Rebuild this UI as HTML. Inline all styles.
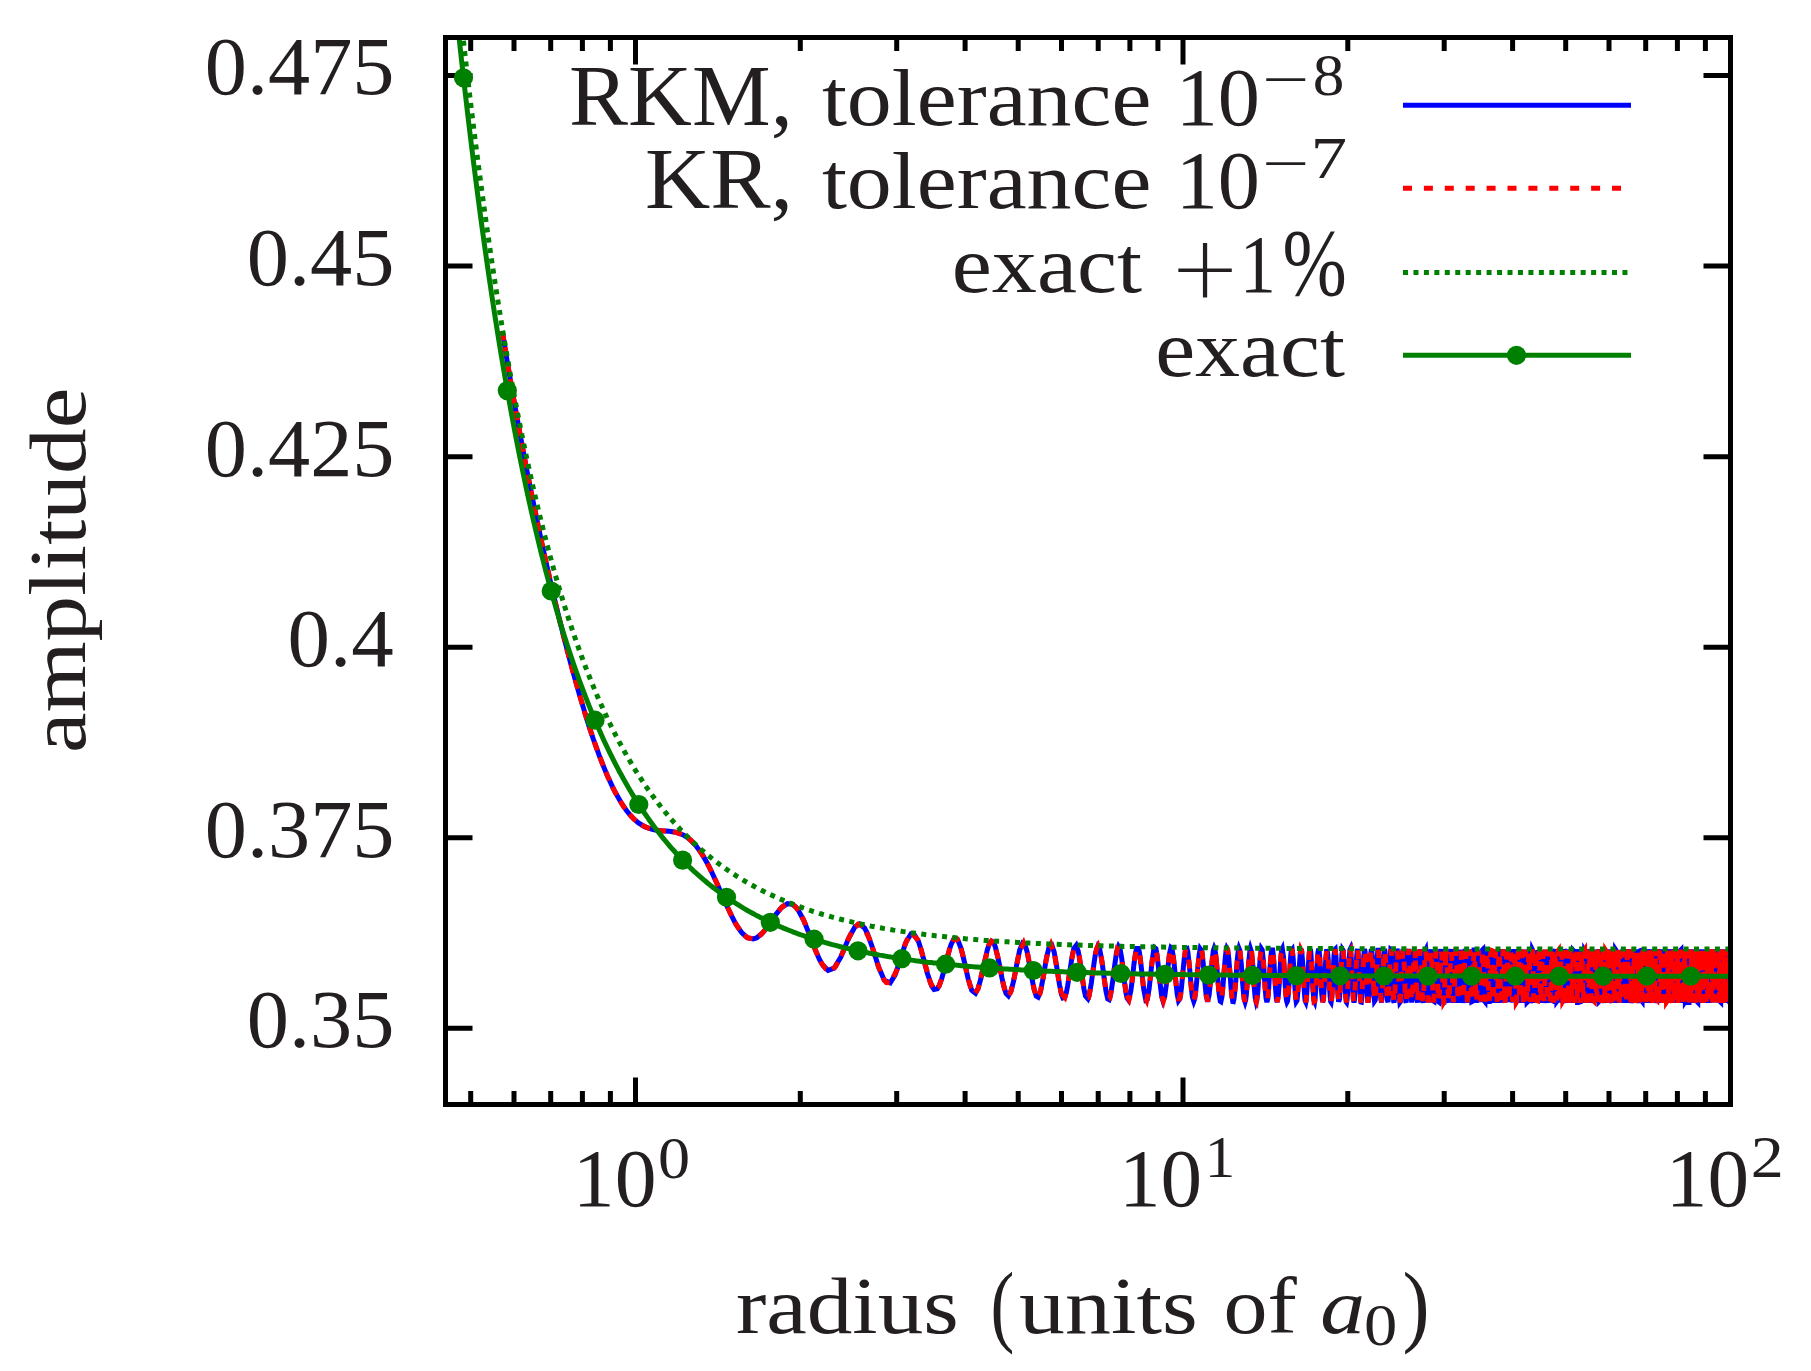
<!DOCTYPE html>
<html lang="en">
<head>
<meta charset="utf-8">
<title>amplitude vs radius</title>
<style>
html,body{margin:0;padding:0;background:#fff;}
body{width:1811px;height:1371px;overflow:hidden;}
svg{display:block;}
text{font-family:"Liberation Serif","DejaVu Serif",serif;fill:#231f20;}
</style>
</head>
<body>
<svg width="1811" height="1371" viewBox="0 0 1811 1371">
<rect x="0" y="0" width="1811" height="1371" fill="#ffffff"/>
<defs><clipPath id="plot"><rect x="445.5" y="37.5" width="1285.0" height="1067.0"/></clipPath></defs>
<path d="M445.5,1028.3 h27.0 M1730.5,1028.3 h-27.0 M445.5,837.7 h27.0 M1730.5,837.7 h-27.0 M445.5,647.2 h27.0 M1730.5,647.2 h-27.0 M445.5,456.7 h27.0 M1730.5,456.7 h-27.0 M445.5,266.1 h27.0 M1730.5,266.1 h-27.0 M445.5,75.6 h27.0 M1730.5,75.6 h-27.0 M470.7,1104.5 v-13.5 M470.7,37.5 v13.5 M514.0,1104.5 v-13.5 M514.0,37.5 v13.5 M550.7,1104.5 v-13.5 M550.7,37.5 v13.5 M582.4,1104.5 v-13.5 M582.4,37.5 v13.5 M610.4,1104.5 v-13.5 M610.4,37.5 v13.5 M635.5,1104.5 v-27.0 M635.5,37.5 v27.0 M800.3,1104.5 v-13.5 M800.3,37.5 v13.5 M896.7,1104.5 v-13.5 M896.7,37.5 v13.5 M965.1,1104.5 v-13.5 M965.1,37.5 v13.5 M1018.2,1104.5 v-13.5 M1018.2,37.5 v13.5 M1061.5,1104.5 v-13.5 M1061.5,37.5 v13.5 M1098.2,1104.5 v-13.5 M1098.2,37.5 v13.5 M1129.9,1104.5 v-13.5 M1129.9,37.5 v13.5 M1157.9,1104.5 v-13.5 M1157.9,37.5 v13.5 M1183.0,1104.5 v-27.0 M1183.0,37.5 v27.0 M1347.8,1104.5 v-13.5 M1347.8,37.5 v13.5 M1444.2,1104.5 v-13.5 M1444.2,37.5 v13.5 M1512.6,1104.5 v-13.5 M1512.6,37.5 v13.5 M1565.7,1104.5 v-13.5 M1565.7,37.5 v13.5 M1609.0,1104.5 v-13.5 M1609.0,37.5 v13.5 M1645.7,1104.5 v-13.5 M1645.7,37.5 v13.5 M1677.4,1104.5 v-13.5 M1677.4,37.5 v13.5 M1705.4,1104.5 v-13.5 M1705.4,37.5 v13.5 M1730.5,1104.5 v-27.0 M1730.5,37.5 v27.0" stroke="#000" stroke-width="5" fill="none"/>
<g clip-path="url(#plot)" fill="none" stroke-width="5" stroke-linejoin="miter" stroke-miterlimit="3.8">
<path d="M502.3,331.2 L507.0,360.3 L513.6,398.7 L516.8,416.7 L523.4,452.3 L527.3,472.6 L531.7,494.7 L537.8,524.1 L542.1,544.4 L547.0,566.6 L549.7,578.6 L555.5,603.3 L560.4,623.3 L564.4,639.2 L570.3,661.9 L574.2,676.1 L578.7,692.1 L581.9,702.9 L586.2,717.0 L589.6,727.9 L593.3,739.0 L599.1,755.1 L602.9,764.9 L607.5,776.1 L614.2,790.4 L620.9,802.3 L626.5,810.6 L631.4,816.5 L635.2,820.2 L638.5,822.9 L645.1,826.9 L649.9,828.7 L653.0,829.5 L658.2,830.4 L664.1,830.9 L669.3,831.3 L675.7,832.3 L678.5,833.1 L683.3,835.0 L687.9,837.9 L690.7,840.2 L696.0,845.8 L702.2,854.4 L707.3,863.2 L711.0,870.5 L717.1,883.7 L721.9,894.5 L726.6,905.3 L732.4,917.5 L735.6,923.6 L741.7,932.6 L747.2,937.6 L753.1,939.0 L756.5,937.9 L762.5,933.0 L765.9,928.8 L768.8,924.7 L775.0,915.6 L781.2,907.8 L787.5,903.7 L792.1,904.2 L795.9,907.1 L798.5,910.6 L803.8,920.6 L809.4,934.4 L815.5,950.4 L819.3,959.1 L822.9,965.4 L828.1,970.4 L834.1,968.2 L840.8,957.0 L844.0,949.4 L848.6,938.3 L855.0,926.7 L859.4,924.0 L864.5,927.9 L867.2,933.0 L872.5,947.7 L878.7,967.3 L884.4,980.4 L890.2,982.8 L895.0,975.1 L898.1,966.4 L903.2,950.2 L906.1,941.8 L911.2,933.6 L913.6,933.5 L918.5,941.5 L921.1,949.7 L924.4,962.0 L927.4,973.5 L931.6,985.8 L934.1,989.4 L937.3,988.8 L939.2,985.6 L941.9,978.0 L945.1,966.3 L947.2,957.6 L950.9,944.8 L953.8,939.1 L957.7,939.8 L961.3,949.1 L964.2,961.2 L968.3,979.4 L971.7,990.3 L975.5,993.2 L978.1,988.6 L981.1,977.7 L983.2,968.0 L987.3,949.9 L989.4,943.6 L991.6,941.1 L993.3,942.1 L995.4,947.1 L998.8,961.4 L1001.9,977.7 L1003.7,985.8 L1006.0,993.4 L1008.4,995.8 L1011.3,990.4 L1013.8,980.1 L1016.5,965.6 L1019.7,950.1 L1022.6,943.2 L1024.8,944.5 L1027.1,951.6 L1029.1,962.1 L1030.7,971.1 L1032.4,981.1 L1034.3,990.2 L1036.2,996.1 L1038.1,997.2 L1040.5,991.6 L1043.7,974.9 L1046.4,958.2 L1049.2,946.6 L1051.8,945.0 L1054.2,952.1 L1057.1,969.1 L1059.5,984.9 L1061.6,994.8 L1062.9,997.9 L1064.9,997.3 L1066.4,992.4 L1067.7,985.4 L1069.7,972.1 L1072.2,955.9 L1073.8,948.6 L1076.2,945.5 L1078.2,951.1 L1079.5,958.1 L1082.2,977.1 L1083.9,988.7 L1085.5,996.1 L1087.9,998.8 L1089.1,995.6 L1091.3,983.1 L1092.6,973.5 L1094.3,961.3 L1095.6,952.9 L1097.9,946.0 L1099.5,948.1 L1102.0,961.6 L1104.0,976.8 L1106.0,991.4 L1107.7,998.8 L1109.1,999.6 L1110.6,995.0 L1113.0,979.2 L1114.2,969.1 L1116.5,952.3 L1118.5,946.5 L1120.0,948.8 L1121.8,958.9 L1123.2,970.5 L1124.6,982.8 L1126.2,994.1 L1127.1,998.2 L1128.6,1000.2 L1130.8,991.1 L1132.1,981.3 L1133.9,964.6 L1135.4,953.8 L1136.5,948.6 L1138.5,948.6 L1139.4,952.3 L1140.6,960.9 L1142.7,980.5 L1143.9,990.3 L1145.8,1000.0 L1147.4,999.2 L1149.2,988.2 L1150.8,973.5 L1152.0,961.8 L1153.7,950.0 L1154.5,947.6 L1155.9,948.7 L1157.1,955.2 L1158.4,966.8 L1159.3,976.0 L1160.4,986.1 L1161.8,996.9 L1163.0,1000.9 L1164.7,996.9 L1166.2,985.5 L1167.9,967.5 L1169.5,953.6 L1170.9,947.7 L1172.0,948.7 L1173.6,958.6 L1174.6,968.3 L1175.4,976.9 L1177.2,994.2 L1178.5,1000.7 L1180.0,998.6 L1181.3,989.3 L1182.7,974.8 L1183.4,966.9 L1184.3,958.1 L1185.7,949.0 L1187.0,948.5 L1187.9,952.4 L1189.6,968.1 L1190.4,977.6 L1191.6,990.6 L1192.4,997.1 L1193.8,1001.4 L1194.8,998.7 L1195.5,993.1 L1196.2,986.4 L1197.1,976.9 L1197.9,967.0 L1199.1,955.0 L1200.2,948.8 L1201.8,951.0 L1203.4,965.3 L1204.9,982.6 L1206.2,995.8 L1207.6,1001.6 L1209.2,994.6 L1209.8,988.5 L1210.5,980.0 L1211.5,967.9 L1212.2,959.9 L1213.4,950.4 L1214.2,948.1 L1215.1,950.2 L1215.9,956.5 L1216.6,963.9 L1217.9,980.4 L1219.1,994.1 L1220.3,1001.2 L1220.9,1001.6 L1221.9,997.2 L1223.1,984.7 L1223.8,975.3 L1224.8,963.3 L1225.4,956.8 L1226.0,951.5 L1226.8,948.4 L1227.7,950.0 L1228.7,957.6 L1230.1,974.8 L1230.9,986.1 L1231.5,992.7 L1232.8,1001.5 L1233.4,1001.6 L1234.0,998.9 L1235.5,984.5 L1236.7,967.8 L1237.5,957.4 L1238.2,951.6 L1239.0,948.3 L1239.9,950.5 L1241.2,962.9 L1242.1,975.3 L1242.7,983.8 L1244.0,998.4 L1245.1,1001.9 L1245.7,999.8 L1246.3,994.9 L1247.2,983.7 L1247.8,975.0 L1248.9,960.4 L1249.9,950.7 L1250.4,948.6 L1251.6,952.3 L1252.8,965.5 L1254.0,984.2 L1255.1,996.9 L1256.2,1002.0 L1256.8,1000.4 L1257.3,996.6 L1257.9,990.5 L1259.2,971.8 L1260.2,957.7 L1261.4,948.7 L1262.2,949.9 L1263.3,959.9 L1263.8,967.4 L1264.4,977.1 L1265.1,987.7 L1266.0,998.2 L1266.9,1002.1 L1267.8,998.5 L1268.6,989.6 L1269.5,975.4 L1270.8,957.4 L1271.6,950.1 L1272.7,950.1 L1273.2,954.0 L1274.0,963.5 L1274.8,977.7 L1275.8,991.9 L1276.4,998.9 L1277.2,1002.2 L1278.3,995.8 L1279.3,982.7 L1280.2,967.9 L1280.7,960.3 L1281.2,954.3 L1281.8,949.7 L1282.3,948.7 L1283.5,957.0 L1283.9,963.3 L1284.6,975.0 L1285.1,983.3 L1286.0,996.2 L1286.5,1000.4 L1287.0,1002.2 L1287.5,1001.3 L1288.1,996.3 L1289.0,984.2 L1290.0,966.8 L1290.6,957.4 L1291.2,950.9 L1292.2,949.6 L1293.2,958.6 L1293.7,966.6 L1294.7,984.0 L1295.7,998.1 L1296.2,1001.8 L1297.1,1000.4 L1297.6,994.9 L1298.2,986.1 L1299.0,972.6 L1299.8,959.6 L1300.5,951.1 L1301.3,948.9 L1301.8,952.0 L1302.8,964.5 L1303.4,975.2 L1304.4,992.9 L1305.1,1000.8 L1305.8,1002.2 L1306.3,999.6 L1307.0,990.6 L1307.6,979.1 L1308.5,964.1 L1309.2,953.6 L1309.6,950.0 L1310.6,950.6 L1311.0,954.6 L1311.9,969.6 L1312.8,987.0 L1313.8,1000.2 L1314.6,1001.9 L1315.1,998.4 L1315.8,989.0 L1316.5,976.5 L1317.3,961.6 L1317.9,952.9 L1318.7,948.8 L1319.2,951.2 L1319.8,958.3 L1320.5,971.3 L1321.2,984.1 L1321.6,992.2 L1322.6,1002.1 L1323.4,999.8 L1324.3,987.1 L1324.9,975.4 L1325.9,957.6 L1326.7,949.3 L1327.7,953.1 L1328.2,960.0 L1328.8,972.6 L1329.4,984.9 L1330.2,997.1 L1330.7,1001.7 L1331.1,1002.3 L1331.8,997.7 L1332.5,985.6 L1333.1,973.3 L1334.0,955.8 L1334.6,949.8 L1335.2,949.2 L1336.0,957.5 L1336.6,969.2 L1337.2,980.2 L1337.7,990.6 L1338.6,1001.7 L1339.5,999.3 L1340.2,988.3 L1340.7,977.6 L1341.5,961.8 L1341.9,954.2 L1342.5,949.5 L1343.1,950.4 L1343.7,957.1 L1344.3,967.4 L1345.1,986.8 L1345.6,994.8 L1346.3,1002.0 L1346.6,1002.4 L1347.0,1000.1 L1347.5,994.1 L1348.4,975.8 L1349.1,960.1 L1349.9,949.8 L1350.3,949.0 L1351.0,954.4 L1351.6,964.6 L1352.1,977.1 L1352.9,992.4 L1353.4,999.6 L1354.0,1002.5 L1354.5,999.7 L1355.0,991.6 L1355.6,978.3 L1356.0,968.8 L1356.5,958.9 L1357.1,951.2 L1357.6,949.1 L1358.4,956.2 L1359.1,969.5 L1359.7,984.0 L1360.5,998.4 L1360.9,1002.1 L1361.3,1002.2 L1361.8,997.5 L1362.2,990.7 L1362.8,977.0 L1363.4,962.7 L1363.8,955.6 L1364.5,949.1 L1365.1,951.6 L1365.6,959.7 L1366.4,977.7 L1367.2,994.2 L1367.6,1000.2 L1368.0,1002.5 L1368.8,996.9 L1369.2,989.8 L1369.9,973.3 L1370.3,962.4 L1370.8,953.6 L1371.4,949.0 L1372.2,954.7 L1372.5,960.3 L1372.9,969.0 L1373.5,985.4 L1374.0,995.7 L1374.5,1001.3 L1375.3,1000.2 L1375.7,993.7 L1376.4,978.8 L1377.1,960.1 L1377.8,950.3 L1378.5,950.3 L1379.1,959.9 L1379.8,976.4 L1380.2,987.2 L1380.8,998.6 L1381.5,1002.5 L1382.2,994.2 L1383.0,977.0 L1383.7,959.3 L1384.0,953.4 L1384.5,949.2 L1385.0,951.0 L1385.7,963.2 L1386.2,975.6 L1386.6,986.3 L1386.9,993.1 L1387.3,1000.0 L1388.0,1002.1 L1388.3,999.3 L1388.7,993.2 L1389.1,983.1 L1389.6,968.9 L1390.1,958.2 L1390.8,949.4 L1391.2,949.7 L1391.7,956.6 L1392.3,971.8 L1393.0,990.3 L1393.7,1001.4 L1394.1,1002.6 L1394.7,996.2 L1395.3,982.8 L1395.8,970.0 L1396.1,962.6 L1396.4,955.2 L1397.0,949.1 L1397.3,950.0 L1397.8,955.4 L1398.1,963.8 L1398.8,980.3 L1399.2,991.5 L1399.5,997.7 L1399.9,1002.3 L1400.4,1001.6 L1401.0,992.4 L1401.4,981.9 L1402.0,965.9 L1402.5,954.6 L1403.1,949.1 L1403.7,954.9 L1404.2,964.9 L1404.6,978.3 L1405.1,990.9 L1405.8,1001.7 L1406.1,1002.6 L1406.5,998.6 L1407.0,988.1 L1407.5,975.4 L1408.0,961.1 L1408.5,952.0 L1408.9,949.1 L1409.5,954.0 L1409.9,962.6 L1410.4,977.2 L1411.0,992.7 L1411.3,998.8 L1411.7,1002.5 L1412.4,997.6 L1413.0,981.3 L1413.7,962.0 L1414.0,955.8 L1414.6,949.2 L1415.2,954.9 L1415.9,970.7 L1416.4,987.0 L1417.0,998.9 L1417.5,1002.6 L1418.0,997.4 L1418.6,983.1 L1419.0,969.3 L1419.4,959.9 L1419.7,953.8 L1420.3,949.3 L1420.9,956.2 L1421.2,964.0 L1421.8,981.5 L1422.1,991.9 L1422.6,1001.1 L1423.0,1002.6 L1423.4,999.5 L1423.7,993.3 L1424.0,986.0 L1424.2,977.7 L1424.5,969.2 L1424.8,961.2 L1425.4,950.5 L1425.8,949.7 L1426.1,953.1 L1426.6,963.4 L1427.0,977.3 L1427.5,990.4 L1427.8,997.8 L1428.2,1002.5 L1428.8,998.5 L1429.2,989.5 L1429.7,976.2 L1430.3,958.5 L1430.6,952.0 L1431.1,949.5 L1431.5,954.9 L1432.1,969.3 L1432.5,981.3 L1432.9,994.1 L1433.3,1000.9 L1433.9,1001.3 L1434.5,989.4 L1434.9,974.5 L1435.6,956.8 L1436.1,949.4 L1436.6,952.8 L1437.2,966.9 L1437.5,977.8 L1438.1,995.5 L1438.5,1001.7 L1438.9,1002.0 L1439.2,997.9 L1439.8,983.5 L1440.1,971.8 L1440.6,957.4 L1440.9,951.5 L1441.3,949.2 L1441.7,952.3 L1442.0,959.0 L1442.2,966.0 L1442.8,982.9 L1443.3,998.5 L1443.7,1002.3 L1443.9,1002.3 L1444.3,997.5 L1444.6,991.3 L1445.0,976.5 L1445.4,964.6 L1445.8,953.6 L1446.4,949.4 L1446.9,957.4 L1447.5,974.7 L1448.0,992.7 L1448.5,1001.3 L1448.9,1002.3 L1449.1,999.5 L1449.4,994.0 L1449.8,981.4 L1450.3,963.6 L1450.7,953.9 L1450.9,950.5 L1451.2,949.2 L1451.7,955.6 L1452.0,963.0 L1452.3,972.6 L1452.6,983.7 L1453.0,996.4 L1453.6,1002.8 L1453.8,1001.0 L1454.3,991.9 L1454.7,978.7 L1455.1,965.7 L1455.5,954.2 L1456.0,949.2 L1456.3,951.6 L1456.7,960.3 L1456.9,968.2 L1457.3,982.1 L1457.8,996.8 L1458.4,1002.7 L1458.7,998.3 L1459.1,990.2 L1459.5,976.0 L1459.8,964.2 L1460.1,956.8 L1460.5,950.0 L1461.0,951.4 L1461.5,964.1 L1462.0,983.5 L1462.4,994.1 L1462.7,1000.4 L1462.9,1002.7 L1463.3,1000.5 L1463.7,988.7 L1464.0,978.6 L1464.5,961.2 L1465.0,951.0 L1465.3,949.2 L1465.7,953.7 L1466.2,967.7 L1466.7,986.6 L1466.9,994.6 L1467.4,1002.6 L1467.9,999.2 L1468.2,992.1 L1468.5,981.8 L1469.0,962.8 L1469.3,953.9 L1469.6,949.7 L1470.1,951.7 L1470.3,957.0 L1470.7,968.7 L1471.0,980.7 L1471.4,993.6 L1471.8,1001.7 L1472.2,1001.5 L1472.6,994.7 L1473.0,977.9 L1473.5,960.8 L1474.0,950.0 L1474.4,950.0 L1474.8,958.7 L1475.1,970.3 L1475.4,981.4 L1475.8,995.1 L1476.4,1002.8 L1476.8,997.8 L1477.1,989.5 L1477.4,979.6 L1477.8,962.9 L1478.2,951.8 L1478.7,950.0 L1479.0,953.8 L1479.4,968.4 L1479.8,981.3 L1480.0,991.4 L1480.4,999.4 L1480.9,1002.0 L1481.4,990.9 L1481.6,983.0 L1481.9,971.5 L1482.3,956.9 L1482.5,952.2 L1482.7,949.6 L1482.9,949.4 L1483.4,957.7 L1483.7,967.8 L1484.0,979.3 L1484.4,994.9 L1484.7,1001.2 L1485.1,1001.7 L1485.4,995.7 L1485.7,986.5 L1486.0,974.2 L1486.3,964.8 L1486.5,957.7 L1486.9,949.4 L1487.4,953.3 L1487.7,962.9 L1488.1,978.6 L1488.6,995.0 L1488.9,1001.5 L1489.3,1001.5 L1489.7,991.6 L1489.9,983.8 L1490.2,974.5 L1490.6,958.9 L1491.0,950.2 L1491.2,949.4 L1491.6,956.9 L1492.1,972.4 L1492.4,984.1 L1492.7,994.3 L1492.9,999.8 L1493.2,1002.8 L1493.4,1001.1 L1493.8,992.7 L1494.1,978.5 L1494.5,964.0 L1494.7,957.1 L1495.1,949.8 L1495.5,951.6 L1495.7,956.8 L1496.1,969.8 L1496.5,987.3 L1496.7,995.5 L1497.2,1002.8 L1497.6,996.5 L1498.0,982.6 L1498.5,964.5 L1498.7,955.8 L1499.1,949.4 L1499.6,953.9 L1499.8,959.4 L1500.2,976.1 L1500.4,986.4 L1500.8,999.4 L1501.2,1002.7 L1501.6,995.7 L1501.9,985.3 L1502.2,972.2 L1502.7,955.7 L1502.9,951.3 L1503.1,949.3 L1503.5,955.6 L1504.0,971.9 L1504.2,981.3 L1504.7,997.7 L1504.9,1002.2 L1505.3,999.6 L1505.8,985.7 L1506.0,977.9 L1506.1,970.2 L1506.4,959.6 L1506.8,949.7 L1507.2,952.0 L1507.5,959.9 L1507.9,977.1 L1508.2,988.2 L1508.5,997.4 L1508.7,1001.8 L1509.1,1000.0 L1509.5,987.5 L1509.8,974.4 L1510.1,963.9 L1510.5,951.0 L1510.8,949.4 L1511.0,952.4 L1511.3,960.9 L1511.7,976.6 L1512.1,992.6 L1512.3,998.7 L1512.7,1002.4 L1513.1,995.2 L1513.3,988.5 L1513.7,970.8 L1514.1,954.5 L1514.5,949.3 L1514.7,950.7 L1515.0,958.0 L1515.3,971.3 L1515.7,989.5 L1516.0,999.3 L1516.2,1002.3 L1516.6,999.2 L1517.1,984.2 L1517.4,970.6 L1517.6,962.9 L1517.9,951.2 L1518.3,950.1 L1518.7,961.3 L1518.9,968.3 L1519.2,981.2 L1519.4,991.5 L1519.6,997.9 L1520.0,1002.8 L1520.2,1000.0 L1520.4,995.3 L1520.6,987.8 L1521.0,970.5 L1521.3,957.2 L1521.6,951.5 L1521.9,949.8 L1522.1,953.2 L1522.4,965.0 L1522.8,980.5 L1522.9,987.8 L1523.2,998.3 L1523.6,1002.8 L1524.0,996.8 L1524.3,983.1 L1524.7,964.8 L1525.1,952.6 L1525.5,949.9 L1525.7,955.4 L1525.9,961.4 L1526.1,970.5 L1526.4,981.7 L1526.5,989.3 L1526.7,996.3 L1527.0,1002.4 L1527.2,1002.2 L1527.5,997.5 L1527.8,983.8 L1528.2,965.8 L1528.6,952.4 L1528.9,949.3 L1529.2,953.7 L1529.6,968.0 L1529.8,977.4 L1530.0,987.2 L1530.3,998.9 L1530.5,1002.6 L1530.7,1002.1 L1531.0,996.5 L1531.2,990.6 L1531.4,978.3 L1531.6,970.1 L1531.8,960.4 L1532.0,953.4 L1532.3,949.5 L1532.5,949.9 L1532.7,956.0 L1533.1,969.7 L1533.3,981.5 L1533.7,997.5 L1534.1,1002.8 L1534.3,999.8 L1534.5,995.0 L1534.8,979.8 L1535.0,969.2 L1535.3,958.8 L1535.6,950.6 L1536.0,951.7 L1536.2,958.5 L1536.5,970.5 L1536.8,985.8 L1537.1,998.3 L1537.3,1002.3 L1537.6,1001.1 L1537.9,992.6 L1538.2,978.0 L1538.4,968.9 L1538.6,960.6 L1539.0,949.9 L1539.4,951.9 L1539.7,964.4 L1540.1,983.3 L1540.5,998.7 L1540.7,1002.7 L1541.1,998.9 L1541.4,987.2 L1541.7,972.9 L1542.0,958.4 L1542.2,951.6 L1542.6,950.2 L1542.8,956.4 L1543.0,963.9 L1543.2,971.2 L1543.5,986.6 L1543.7,995.3 L1544.1,1002.8 L1544.3,1001.3 L1544.5,995.1 L1544.9,977.2 L1545.1,963.5 L1545.5,951.1 L1545.8,950.3 L1546.0,954.3 L1546.2,961.7 L1546.5,973.4 L1546.8,991.2 L1547.1,999.2 L1547.3,1002.8 L1547.6,999.7 L1547.8,992.1 L1548.1,975.7 L1548.3,967.5 L1548.5,958.5 L1548.8,949.7 L1549.1,951.3 L1549.4,959.6 L1549.6,970.7 L1549.8,979.9 L1550.1,992.2 L1550.4,1002.4 L1550.7,1000.8 L1551.0,991.6 L1551.4,972.6 L1551.7,956.3 L1552.1,949.3 L1552.5,956.2 L1552.8,969.8 L1553.0,981.2 L1553.3,994.8 L1553.5,1001.3 L1553.9,1001.5 L1554.0,997.0 L1554.3,986.3 L1554.6,968.5 L1554.9,957.1 L1555.1,949.9 L1555.3,949.4 L1555.5,952.9 L1555.9,967.8 L1556.2,983.5 L1556.4,994.1 L1556.7,1001.6 L1557.0,1001.2 L1557.3,990.4 L1557.6,973.2 L1557.8,962.5 L1558.0,954.7 L1558.3,949.3 L1558.6,952.2 L1558.9,961.9 L1559.0,971.5 L1559.3,983.1 L1559.6,997.1 L1559.8,1002.3 L1560.1,1000.4 L1560.3,995.8 L1560.6,978.6 L1560.8,968.5 L1561.0,956.9 L1561.4,949.3 L1561.6,950.8 L1561.8,956.2 L1562.1,973.6 L1562.5,991.6 L1562.7,1000.6 L1562.9,1002.7 L1563.2,999.9 L1563.4,993.2 L1563.5,984.2 L1563.9,965.3 L1564.2,953.7 L1564.4,949.4 L1564.6,950.0 L1564.8,955.3 L1565.1,970.7 L1565.3,982.1 L1565.5,992.6 L1565.8,1001.4 L1566.0,1002.8 L1566.2,997.9 L1566.5,984.0 L1566.7,972.9 L1567.0,960.4 L1567.2,951.3 L1567.5,949.3 L1567.6,952.0 L1567.8,957.2 L1568.1,969.9 L1568.4,988.7 L1568.5,995.1 L1568.9,1002.8 L1569.2,997.4 L1569.5,986.0 L1569.8,966.6 L1570.1,953.9 L1570.4,949.3 L1570.6,951.9 L1570.8,960.4 L1571.1,975.5 L1571.3,985.9 L1571.6,998.6 L1571.8,1002.8 L1572.1,998.9 L1572.4,983.8 L1572.6,973.3 L1572.8,961.5 L1573.0,953.7 L1573.2,950.3 L1573.4,950.5 L1573.7,959.0 L1574.0,977.7 L1574.3,991.9 L1574.5,1000.0 L1574.8,1002.1 L1575.0,999.1 L1575.2,991.3 L1575.5,975.1 L1575.6,965.7 L1575.8,956.0 L1576.1,949.3 L1576.4,951.5 L1576.5,957.5 L1576.9,974.3 L1577.0,982.9 L1577.3,997.8 L1577.5,1002.4 L1577.7,1002.4 L1577.9,996.4 L1578.1,985.2 L1578.5,965.9 L1578.8,953.2 L1579.0,949.3 L1579.2,952.6 L1579.4,960.2 L1579.8,979.0 L1580.0,990.7 L1580.3,1001.7 L1580.6,1001.6 L1580.9,990.1 L1581.1,978.7 L1581.3,966.0 L1581.5,956.1 L1581.8,949.3 L1582.1,955.1 L1582.4,969.9 L1582.6,983.1 L1582.9,997.7 L1583.2,1002.9 L1583.4,999.2 L1583.6,992.6 L1583.8,983.1 L1584.1,966.9 L1584.2,958.3 L1584.5,950.5 L1584.8,951.0 L1585.0,960.5 L1585.3,974.8 L1585.4,985.5 L1585.6,993.4 L1585.7,998.7 L1585.9,1002.0 L1586.0,1002.6 L1586.3,996.8 L1586.5,986.5 L1586.6,976.5 L1586.8,965.4 L1587.0,954.9 L1587.3,949.3 L1587.6,953.8 L1587.7,959.3 L1587.9,971.6 L1588.1,981.5 L1588.4,996.9 L1588.7,1002.9 L1588.9,998.6 L1589.2,985.6 L1589.5,969.6 L1589.8,955.0 L1589.9,950.1 L1590.1,949.6 L1590.4,957.0 L1590.7,974.5 L1590.9,984.8 L1591.1,996.8 L1591.3,1002.6 L1591.5,1001.5 L1591.8,991.4 L1592.0,983.0 L1592.1,970.8 L1592.4,959.1 L1592.7,949.6 L1592.9,951.9 L1593.2,963.1 L1593.5,982.6 L1593.7,992.1 L1593.9,1001.1 L1594.1,1002.9 L1594.2,1001.3 L1594.5,991.6 L1594.7,974.5 L1595.0,960.1 L1595.2,951.2 L1595.5,950.3 L1595.8,961.8 L1596.1,980.2 L1596.4,995.7 L1596.6,1002.0 L1596.9,1000.9 L1597.0,995.0 L1597.3,978.1 L1597.5,967.1 L1597.8,952.4 L1598.0,949.4 L1598.2,950.9 L1598.3,957.2 L1598.5,968.9 L1598.7,979.0 L1598.9,989.4 L1599.2,1001.3 L1599.5,1001.0 L1599.6,995.9 L1599.8,985.0 L1600.0,972.3 L1600.3,956.6 L1600.5,949.7 L1600.7,950.6 L1601.0,960.8 L1601.2,975.0 L1601.4,985.1 L1601.7,998.7 L1601.9,1002.8 L1602.1,997.5 L1602.4,984.7 L1602.5,975.3 L1602.8,959.5 L1603.0,950.9 L1603.2,949.8 L1603.4,955.1 L1603.7,968.0 L1603.8,976.3 L1604.0,989.7 L1604.3,1001.6 L1604.5,1002.8 L1604.6,1000.5 L1604.8,992.7 L1605.0,979.8 L1605.2,967.6 L1605.4,956.2 L1605.6,949.6 L1605.9,952.8 L1606.0,957.9 L1606.2,968.7 L1606.5,983.9 L1606.6,991.0 L1606.9,1002.1 L1607.1,1001.3 L1607.3,993.6 L1607.5,981.9 L1607.6,972.4 L1607.8,964.3 L1608.0,952.8 L1608.3,949.8 L1608.6,958.5 L1608.7,965.2 L1608.8,973.0 L1609.0,986.8 L1609.2,998.1 L1609.5,1002.9 L1609.7,997.1 L1610.0,981.3 L1610.3,962.0 L1610.5,953.7 L1610.7,949.4 L1611.0,955.1 L1611.2,968.5 L1611.3,976.8 L1611.6,994.1 L1611.8,1002.0 L1612.0,1002.7 L1612.2,998.6 L1612.4,987.4 L1612.6,972.0 L1612.8,960.3 L1613.0,950.6 L1613.3,950.0 L1613.5,960.8 L1613.8,978.2 L1613.9,987.4 L1614.1,994.7 L1614.3,1002.7 L1614.6,1000.1 L1614.8,985.6 L1615.0,972.7 L1615.2,963.4 L1615.3,956.9 L1615.5,949.5 L1615.7,949.8 L1615.9,957.0 L1616.1,969.6 L1616.4,986.2 L1616.6,1000.2 L1616.8,1002.8 L1617.0,1000.1 L1617.2,988.3 L1617.4,978.5 L1617.5,969.8 L1617.6,961.2 L1617.9,950.2 L1618.2,951.3 L1618.3,956.8 L1618.4,963.0 L1618.6,978.1 L1618.8,989.2 L1619.0,997.2 L1619.1,1001.8 L1619.3,1002.2 L1619.5,997.1 L1619.7,980.6 L1619.9,966.2 L1620.2,952.4 L1620.5,950.0 L1620.7,960.2 L1620.9,972.9 L1621.2,987.5 L1621.4,998.3 L1621.5,1001.7 L1621.7,1000.4 L1621.9,994.9 L1622.1,982.2 L1622.3,966.3 L1622.6,953.2 L1622.8,949.3 L1623.0,953.6 L1623.2,967.6 L1623.4,983.1 L1623.7,996.5 L1623.9,1002.9 L1624.0,1001.7 L1624.2,994.1 L1624.3,987.4 L1624.5,978.2 L1624.6,970.3 L1624.8,955.0 L1625.0,950.0 L1625.2,950.5 L1625.4,960.6 L1625.7,975.9 L1625.9,993.6 L1626.1,1001.3 L1626.4,1001.9 L1626.6,991.2 L1626.7,983.0 L1626.9,969.6 L1627.0,961.6 L1627.2,952.0 L1627.4,949.3 L1627.7,954.8 L1627.8,965.3 L1628.0,974.7 L1628.2,992.1 L1628.4,1000.3 L1628.5,1002.6 L1628.7,1001.9 L1628.8,996.0 L1628.9,989.8 L1629.1,981.0 L1629.2,969.7 L1629.4,959.2 L1629.6,951.4 L1629.7,949.3 L1629.9,952.1 L1630.1,960.7 L1630.2,971.8 L1630.4,988.4 L1630.7,1000.3 L1630.8,1002.6 L1630.9,1002.3 L1631.0,998.9 L1631.2,990.4 L1631.4,979.1 L1631.6,962.7 L1631.8,951.7 L1632.1,950.3 L1632.3,959.0 L1632.5,972.6 L1632.8,991.7 L1633.0,1001.2 L1633.1,1002.7 L1633.3,999.0 L1633.4,993.9 L1633.7,976.0 L1633.9,960.1 L1634.1,952.2 L1634.3,950.0 L1634.5,958.7 L1634.7,970.7 L1635.0,989.6 L1635.2,1001.4 L1635.4,1002.5 L1635.6,997.4 L1635.7,990.4 L1635.8,982.2 L1636.0,970.1 L1636.1,960.7 L1636.2,954.7 L1636.5,949.3 L1636.7,955.9 L1636.9,969.5 L1637.2,988.1 L1637.4,1000.7 L1637.6,1002.5 L1637.8,996.4 L1638.0,986.6 L1638.2,973.0 L1638.3,962.1 L1638.4,954.9 L1638.6,949.6 L1638.8,952.0 L1639.0,961.9 L1639.2,978.0 L1639.4,989.3 L1639.5,995.3 L1639.6,1001.0 L1639.8,1002.9 L1640.0,998.4 L1640.1,989.2 L1640.3,973.9 L1640.5,963.9 L1640.6,953.9 L1640.7,950.6 L1641.0,950.5 L1641.2,961.2 L1641.4,978.8 L1641.7,995.2 L1641.8,1000.8 L1642.1,1001.2 L1642.2,992.8 L1642.4,984.0 L1642.5,975.3 L1642.6,966.9 L1642.8,954.6 L1643.0,949.4 L1643.2,953.9 L1643.4,966.0 L1643.6,979.9 L1643.7,989.0 L1643.9,1000.4 L1644.0,1002.6 L1644.3,1000.2 L1644.4,994.4 L1644.5,986.4 L1644.7,967.8 L1645.0,953.1 L1645.2,949.4 L1645.3,952.3 L1645.5,961.2 L1645.7,972.3 L1645.8,981.3 L1645.9,991.1 L1646.0,997.2 L1646.3,1002.8 L1646.4,999.9 L1646.6,991.7 L1646.7,981.9 L1646.9,966.4 L1647.1,954.8 L1647.3,949.3 L1647.4,950.4 L1647.5,954.9 L1647.7,967.0 L1647.9,981.7 L1648.1,996.8 L1648.2,1001.1 L1648.4,1002.8 L1648.5,998.6 L1648.7,988.2 L1648.9,976.5 L1649.1,960.7 L1649.2,954.4 L1649.3,950.6 L1649.4,949.5 L1649.6,951.9 L1649.7,959.7 L1649.9,973.4 L1650.0,982.1 L1650.2,993.9 L1650.4,1001.7 L1650.5,1002.0 L1650.6,998.8 L1650.9,985.6 L1651.1,969.2 L1651.2,959.2 L1651.4,951.2 L1651.6,950.1 L1651.8,959.9 L1651.9,969.5 L1652.2,986.5 L1652.3,996.8 L1652.6,1002.9 L1652.8,995.7 L1652.9,985.7 L1653.1,973.8 L1653.3,961.0 L1653.5,950.1 L1653.6,949.5 L1653.8,954.9 L1654.0,967.5 L1654.2,983.9 L1654.3,991.5 L1654.5,1000.9 L1654.6,1002.7 L1654.8,998.9 L1655.0,983.3 L1655.1,974.4 L1655.3,959.3 L1655.5,952.7 L1655.7,949.9 L1655.9,956.2 L1656.0,967.2 L1656.2,977.8 L1656.3,991.2 L1656.6,1001.9 L1656.7,1002.9 L1656.9,997.6 L1657.0,990.7 L1657.1,981.0 L1657.3,963.3 L1657.4,956.5 L1657.6,949.5 L1657.7,949.8 L1657.9,955.8 L1658.1,968.5 L1658.2,977.9 L1658.4,994.0 L1658.5,1000.2 L1658.7,1002.8 L1658.8,1000.1 L1659.0,988.1 L1659.2,977.7 L1659.3,966.9 L1659.4,960.1 L1659.6,950.0 L1659.7,949.4 L1659.9,952.7 L1660.0,963.8 L1660.2,975.1 L1660.4,989.6 L1660.5,998.5 L1660.7,1002.7 L1660.8,999.9 L1660.9,995.2 L1661.0,988.1 L1661.2,974.3 L1661.4,960.3 L1661.6,950.3 L1661.8,952.2 L1662.0,960.2 L1662.2,977.1 L1662.4,989.2 L1662.5,998.2 L1662.6,1002.1 L1662.8,1000.3 L1663.0,992.9 L1663.2,978.5 L1663.3,964.7 L1663.6,951.3 L1663.7,949.3 L1663.9,953.5 L1664.1,966.8 L1664.2,976.7 L1664.4,993.2 L1664.6,1001.5 L1664.7,1002.9 L1664.9,995.7 L1665.1,985.1 L1665.2,971.6 L1665.4,956.5 L1665.6,949.3 L1665.8,951.3 L1665.9,956.2 L1666.1,970.6 L1666.3,986.4 L1666.4,997.0 L1666.6,1002.8 L1666.8,997.5 L1667.0,982.6 L1667.2,968.0 L1667.4,953.3 L1667.7,949.6 L1667.9,957.4 L1668.0,964.9 L1668.1,979.3 L1668.3,993.1 L1668.5,1002.5 L1668.7,1001.3 L1668.9,992.3 L1669.1,976.8 L1669.2,968.2 L1669.2,960.7 L1669.3,955.0 L1669.4,950.7 L1669.6,949.4 L1669.7,951.3 L1669.8,960.5 L1670.0,974.2 L1670.2,987.3 L1670.2,993.8 L1670.4,1001.5 L1670.5,1002.9 L1670.6,1001.6 L1670.8,991.1 L1671.0,972.9 L1671.1,964.7 L1671.3,953.1 L1671.4,950.0 L1671.6,950.7 L1671.7,959.5 L1671.9,973.2 L1672.1,992.2 L1672.3,1001.2 L1672.4,1002.9 L1672.6,995.9 L1672.8,986.7 L1672.9,972.6 L1673.1,960.5 L1673.3,950.4 L1673.4,949.3 L1673.5,952.5 L1673.7,961.2 L1673.8,975.5 L1674.1,993.1 L1674.2,1000.2 L1674.3,1002.9 L1674.5,998.2 L1674.6,990.9 L1674.8,977.8 L1674.9,966.3 L1675.1,954.3 L1675.2,949.4 L1675.4,953.1 L1675.6,962.2 L1675.7,972.1 L1675.8,979.9 L1676.0,993.6 L1676.1,1000.0 L1676.2,1002.5 L1676.3,1001.8 L1676.4,996.6 L1676.6,983.1 L1676.7,971.8 L1676.9,960.6 L1677.0,950.8 L1677.2,950.3 L1677.3,954.5 L1677.5,966.1 L1677.7,985.1 L1677.9,999.4 L1678.1,1002.5 L1678.3,998.4 L1678.5,982.6 L1678.6,972.5 L1678.7,960.8 L1678.8,954.4 L1679.0,949.4 L1679.2,953.2 L1679.3,965.2 L1679.4,972.6 L1679.7,991.6 L1679.8,999.3 L1680.0,1002.7 L1680.2,994.1 L1680.4,978.3 L1680.5,964.5 L1680.7,953.8 L1680.8,950.1 L1680.9,950.0 L1681.1,959.4 L1681.3,974.2 L1681.5,989.6 L1681.6,1000.4 L1681.8,1002.9 L1682.0,995.5 L1682.1,985.6 L1682.2,975.8 L1682.4,960.8 L1682.5,954.0 L1682.7,949.6 L1682.9,955.5 L1683.0,962.4 L1683.1,969.8 L1683.2,984.7 L1683.3,992.0 L1683.4,997.8 L1683.6,1002.6 L1683.7,1001.2 L1683.9,989.9 L1684.0,981.2 L1684.2,963.3 L1684.3,954.0 L1684.5,949.4 L1684.6,951.9 L1684.7,956.5 L1684.9,967.3 L1685.0,977.5 L1685.1,990.4 L1685.3,1001.4 L1685.5,1001.1 L1685.6,996.7 L1685.7,988.2 L1685.9,977.1 L1686.0,967.5 L1686.1,956.3 L1686.2,951.8 L1686.3,949.4 L1686.4,950.2 L1686.5,956.7 L1686.7,973.8 L1686.8,983.3 L1687.0,998.3 L1687.2,1002.6 L1687.3,999.9 L1687.5,986.8 L1687.7,971.9 L1687.9,957.3 L1688.0,949.9 L1688.3,952.7 L1688.4,965.3 L1688.6,977.9 L1688.7,988.7 L1688.8,996.2 L1688.9,1002.4 L1689.1,1002.4 L1689.2,998.2 L1689.4,983.2 L1689.5,967.1 L1689.7,955.5 L1689.9,949.3 L1690.0,952.8 L1690.2,961.3 L1690.3,976.7 L1690.5,991.1 L1690.6,998.3 L1690.7,1002.6 L1690.9,1000.8 L1691.0,995.1 L1691.2,978.0 L1691.3,969.8 L1691.5,954.6 L1691.7,949.5 L1691.8,955.2 L1691.9,963.0 L1692.1,980.1 L1692.3,992.2 L1692.4,1001.7 L1692.6,1002.7 L1692.7,999.3 L1692.9,984.3 L1693.0,975.8 L1693.1,967.6 L1693.2,953.9 L1693.4,949.4 L1693.5,952.4 L1693.7,960.3 L1693.8,975.5 L1694.0,990.0 L1694.2,1000.4 L1694.3,1002.9 L1694.5,994.7 L1694.6,986.8 L1694.8,971.6 L1694.9,962.0 L1695.0,953.7 L1695.1,949.6 L1695.3,952.8 L1695.4,963.3 L1695.6,974.5 L1695.7,988.4 L1695.8,998.4 L1696.0,1002.9 L1696.1,1001.3 L1696.2,994.5 L1696.4,982.8 L1696.5,974.2 L1696.5,966.6 L1696.7,954.7 L1696.8,950.3 L1697.0,951.4 L1697.1,955.5 L1697.2,963.5 L1697.3,978.5 L1697.4,987.5 L1697.6,997.5 L1697.7,1002.3 L1697.8,1002.4 L1697.9,998.4 L1698.1,982.4 L1698.2,970.8 L1698.3,962.3 L1698.5,950.7 L1698.6,949.4 L1698.8,955.1 L1698.9,967.9 L1699.1,984.3 L1699.3,998.1 L1699.4,1002.2 L1699.5,1002.8 L1699.6,998.8 L1699.7,989.4 L1699.8,979.3 L1700.0,962.2 L1700.1,955.5 L1700.2,949.7 L1700.4,951.0 L1700.5,954.7 L1700.6,969.2 L1700.8,981.2 L1700.9,993.2 L1701.0,999.4 L1701.1,1002.9 L1701.3,1000.1 L1701.4,989.9 L1701.5,982.4 L1701.6,969.5 L1701.8,957.6 L1702.0,949.4 L1702.1,952.4 L1702.3,963.7 L1702.4,976.3 L1702.5,989.6 L1702.7,1001.7 L1702.9,1002.4 L1703.1,991.9 L1703.2,977.7 L1703.4,959.8 L1703.6,951.1 L1703.7,950.6 L1703.9,961.1 L1704.0,972.6 L1704.2,984.3 L1704.4,999.2 L1704.5,1002.8 L1704.6,998.8 L1704.7,992.0 L1704.9,979.3 L1705.0,967.1 L1705.1,957.7 L1705.2,951.6 L1705.4,950.7 L1705.6,959.7 L1705.7,972.0 L1705.8,986.5 L1706.0,999.8 L1706.2,1002.7 L1706.3,1000.1 L1706.4,993.8 L1706.6,976.5 L1706.7,962.6 L1706.9,952.4 L1706.9,949.5 L1707.0,950.0 L1707.1,954.2 L1707.3,962.8 L1707.4,976.9 L1707.5,988.7 L1707.7,999.9 L1707.8,1002.9 L1707.9,999.1 L1708.1,983.9 L1708.2,975.8 L1708.4,961.1 L1708.5,950.9 L1708.6,949.3 L1708.8,955.7 L1708.9,962.8 L1709.1,979.9 L1709.2,989.4 L1709.3,998.7 L1709.4,1002.8 L1709.6,1000.1 L1709.7,989.5 L1709.8,981.9 L1710.0,964.4 L1710.1,953.8 L1710.3,949.5 L1710.4,952.4 L1710.5,961.2 L1710.7,979.9 L1710.8,993.9 L1711.0,1001.5 L1711.1,1002.4 L1711.3,992.7 L1711.4,985.9 L1711.6,966.3 L1711.7,955.5 L1711.9,949.3 L1712.0,952.4 L1712.2,965.3 L1712.3,973.9 L1712.4,986.6 L1712.6,999.4 L1712.7,1002.2 L1712.9,995.4 L1713.0,988.6 L1713.1,972.1 L1713.3,958.0 L1713.4,952.3 L1713.5,949.5 L1713.6,951.7 L1713.7,957.2 L1713.9,974.3 L1714.1,993.0 L1714.2,1002.1 L1714.4,1000.4 L1714.5,993.2 L1714.6,985.5 L1714.8,968.9 L1714.9,954.7 L1715.1,949.4 L1715.2,950.8 L1715.2,954.5 L1715.4,965.7 L1715.5,975.0 L1715.6,986.1 L1715.7,997.0 L1715.8,1001.9 L1716.0,1000.2 L1716.1,993.0 L1716.2,979.6 L1716.4,960.8 L1716.6,951.1 L1716.7,949.5 L1716.9,956.3 L1717.0,964.3 L1717.0,972.8 L1717.1,980.9 L1717.3,995.0 L1717.4,1002.4 L1717.6,1000.7 L1717.7,990.3 L1717.9,976.1 L1718.0,958.3 L1718.2,950.9 L1718.3,949.3 L1718.4,951.4 L1718.5,958.9 L1718.6,972.7 L1718.7,984.7 L1718.9,995.7 L1719.0,1001.5 L1719.1,1001.7 L1719.3,990.9 L1719.4,979.8 L1719.6,962.8 L1719.7,955.2 L1719.8,949.4 L1720.0,952.8 L1720.1,964.2 L1720.2,979.0 L1720.3,987.3 L1720.5,998.6 L1720.5,1001.9 L1720.7,1002.1 L1720.8,995.0 L1721.0,977.5 L1721.1,967.7 L1721.1,960.4 L1721.3,951.1 L1721.4,949.4 L1721.5,954.1 L1721.6,961.9 L1721.8,977.4 L1721.9,986.3 L1722.0,997.4 L1722.2,1002.9 L1722.3,996.5 L1722.4,987.2 L1722.6,973.0 L1722.7,956.0 L1722.8,951.2 L1723.0,950.5 L1723.2,960.0 L1723.3,978.6 L1723.5,991.4 L1723.6,1000.1 L1723.7,1002.8 L1723.8,999.1 L1723.9,993.8 L1724.0,980.5 L1724.2,968.1 L1724.3,956.5 L1724.4,949.6 L1724.5,950.8 L1724.6,955.5 L1724.8,970.7 L1725.0,989.5 L1725.1,997.4 L1725.2,1002.8 L1725.3,1000.9 L1725.5,990.5 L1725.5,982.8 L1725.7,964.2 L1725.9,951.7 L1726.0,949.4 L1726.1,952.7 L1726.2,960.5 L1726.3,969.7 L1726.5,987.6 L1726.6,999.8 L1726.8,1002.8 L1726.9,997.4 L1727.1,982.1 L1727.2,970.3 L1727.3,958.1 L1727.4,951.9 L1727.5,949.4 L1727.6,951.6 L1727.7,958.7 L1727.9,972.9 L1728.0,983.9 L1728.1,996.9 L1728.3,1002.9 L1728.4,998.8 L1728.5,989.0 L1728.6,977.0 L1728.7,968.5 L1728.9,954.7 L1729.0,949.4 L1729.1,952.4 L1729.3,963.9 L1729.4,978.6 L1729.6,994.6 L1729.7,1002.4 L1729.8,1002.5 L1729.9,999.3 L1730.0,991.2 L1730.1,982.1 L1730.2,967.1 L1730.3,959.5 L1730.4,950.5 L1730.5,949.4" stroke="#0000ff"/>
<path d="M502.3,331.2 L506.0,353.9 L509.8,376.9 L515.8,411.3 L518.8,427.8 L524.0,455.2 L529.6,484.3 L533.0,501.2 L535.9,515.0 L539.6,532.8 L545.0,557.5 L550.0,579.5 L553.2,593.5 L557.6,612.0 L563.0,633.9 L567.4,651.0 L572.7,670.7 L579.4,694.4 L584.8,712.7 L589.1,726.2 L592.5,736.5 L596.5,748.1 L601.3,760.9 L607.6,776.3 L613.5,788.9 L617.4,796.4 L623.9,807.0 L628.5,813.1 L634.0,819.1 L637.1,821.8 L640.1,824.1 L643.6,826.1 L649.9,828.7 L655.4,830.0 L661.5,830.7 L666.8,831.1 L671.2,831.5 L675.9,832.4 L681.0,834.0 L687.3,837.4 L691.7,841.1 L698.1,848.4 L703.2,856.1 L709.3,867.1 L714.0,876.9 L719.6,889.2 L723.6,898.4 L728.4,909.1 L731.9,916.5 L734.9,922.3 L737.7,927.0 L743.2,934.4 L747.8,937.9 L754.1,938.8 L760.3,935.2 L764.5,930.6 L771.2,921.3 L776.3,913.8 L782.1,906.9 L786.4,904.0 L789.8,903.5 L793.2,904.8 L796.5,907.9 L801.7,916.1 L804.8,922.8 L807.4,929.3 L813.5,945.3 L816.6,952.9 L821.1,962.5 L825.7,968.9 L830.9,970.4 L835.7,966.3 L842.2,953.8 L848.0,939.9 L853.0,929.6 L858.2,924.2 L862.9,925.9 L869.6,939.0 L873.1,949.7 L878.6,967.1 L883.6,979.1 L886.3,982.6 L890.2,982.7 L896.7,970.6 L902.6,952.1 L905.2,944.1 L909.1,935.8 L911.7,933.3 L917.8,939.9 L920.9,949.0 L923.7,959.5 L930.5,983.1 L934.9,989.8 L938.9,986.3 L941.7,978.9 L945.8,963.2 L949.8,948.2 L954.4,938.6 L956.8,938.7 L959.8,944.2 L962.9,955.5 L966.9,973.5 L970.4,986.7 L974.9,993.5 L978.1,988.5 L983.5,966.3 L989.0,944.7 L991.3,941.2 L994.1,943.4 L998.0,957.4 L1002.5,980.5 L1004.7,989.6 L1007.2,995.4 L1010.6,992.6 L1014.6,976.0 L1019.2,952.1 L1023.6,943.1 L1027.8,954.9 L1029.7,965.4 L1034.3,990.3 L1037.7,997.4 L1039.7,994.4 L1042.1,984.3 L1045.4,964.1 L1048.1,950.2 L1050.9,944.3 L1054.6,954.4 L1058.3,977.6 L1061.3,993.7" stroke="#ff0000" stroke-dasharray="9.2 7"/>
<path d="M1061.3,993.7 L1064.8,997.4 L1067.4,987.5 L1071.2,961.9 L1074.2,947.5 L1077.9,949.9 L1079.5,957.8 L1083.0,982.4 L1085.7,996.7 L1088.7,997.1 L1090.5,988.7 L1093.1,970.1 L1095.1,956.1 L1096.6,948.6 L1098.0,946.0 L1101.2,956.3 M1101.2,956.3 L1104.0,977.0 L1105.7,989.7 L1107.5,998.3 L1109.8,998.3 L1112.7,981.4 L1114.2,969.1 L1117.4,948.7 L1120.5,950.9 L1122.1,961.7 L1124.6,982.6 L1126.5,995.6 M1126.5,995.6 L1129.0,999.6 L1130.3,994.4 L1132.3,978.9 L1134.6,959.3 L1136.9,947.5 L1139.3,951.8 L1142.0,973.7 L1143.5,987.7 L1144.9,996.9 L1146.7,1000.6 L1148.8,991.5 L1151.5,966.3 M1151.5,966.3 L1153.8,949.8 L1156.1,949.6 L1158.8,970.2 L1160.2,985.0 L1161.7,996.3 L1163.4,1001.0 L1164.9,995.6 L1167.0,977.4 L1169.5,953.7 L1170.7,948.1 L1172.5,951.0 L1174.5,968.0 L1176.3,986.4 L1178.7,1001.0 M1178.7,1001.0 L1180.7,994.4 L1183.0,971.3 L1184.1,959.9 L1185.3,950.7 L1186.3,947.8 L1188.5,957.2 L1190.8,982.5 L1191.7,991.9 L1193.8,1001.4 L1195.7,991.7 L1197.9,967.2 M1197.9,967.2 L1199.1,954.7 L1201.0,948.1 L1202.2,953.5 L1203.2,962.5 L1205.1,984.9 L1206.0,994.1 L1207.8,1001.5 L1209.0,996.2 L1210.5,980.6 L1212.5,956.8 L1213.6,949.2 L1215.1,950.2 L1216.4,960.7 M1216.4,960.7 L1217.4,973.7 L1218.8,991.1 L1219.9,999.5 L1221.7,998.6 L1223.3,982.8 L1224.4,967.7 L1226.4,949.3 L1227.6,949.6 L1229.2,963.7 L1230.9,986.0 L1232.0,997.4 L1232.8,1001.4 L1234.6,994.2 L1236.5,969.5 M1236.5,969.5 L1237.5,957.7 L1238.4,950.2 L1239.7,949.4 L1241.1,961.9 L1243.0,988.1 L1244.8,1001.9 L1246.7,990.3 M1246.7,990.3 L1247.7,976.6 L1249.1,957.6 L1250.3,948.9 L1251.3,950.0 L1252.0,956.1 M1252.0,956.1 L1252.9,967.4 L1254.0,983.8 L1254.8,993.9 L1255.7,1000.8 L1256.4,1001.9 L1257.8,991.9 L1259.0,974.3 L1259.9,960.6 M1259.9,960.6 L1261.2,949.4 L1262.3,950.5 L1263.7,965.6 L1265.3,990.8 L1266.4,1000.6 L1267.7,999.2 L1268.6,989.8 L1270.2,964.4 M1270.2,964.4 L1271.5,950.4 L1272.3,948.8 L1273.2,954.4 L1274.0,964.8 L1274.9,978.0 L1275.8,992.4 L1277.3,1002.2 L1278.4,995.5 L1279.3,982.9 L1280.3,965.6 L1281.2,953.9 L1282.5,949.3 L1283.2,954.0 L1284.1,966.2 M1284.1,966.2 L1285.0,981.9 L1285.8,993.7 L1287.1,1002.2 L1287.9,998.2 L1288.8,986.7 L1289.5,975.6 L1290.8,955.1 L1291.7,948.8 L1292.9,955.4 L1293.7,967.0 L1294.3,977.7 L1295.2,992.3 L1296.5,1002.3 L1297.9,991.6 L1298.8,976.3 M1298.8,976.3 L1300.1,954.5 L1300.8,949.6 L1301.8,951.7 L1302.6,961.6 L1303.6,978.9 M1303.6,978.9 L1304.3,991.9 L1305.7,1002.3 L1306.5,997.1 L1307.9,973.9 L1308.6,962.2 L1309.5,950.8 L1310.4,949.9 L1311.6,964.0 L1312.5,980.0 L1313.4,996.1 M1313.4,996.1 L1314.0,1001.5 L1314.8,1001.0 L1316.0,985.7 L1316.6,973.7 L1317.5,957.2 L1318.3,949.8 L1318.9,949.5 L1319.6,954.9 L1320.8,976.2 L1321.9,995.8 L1322.7,1002.3 L1323.6,998.3 L1324.7,979.7 L1325.7,960.0 M1325.7,960.0 L1327.0,948.9 L1328.2,961.1 L1329.1,979.0 L1330.2,997.3 L1331.1,1002.3 L1331.9,996.2 M1331.9,996.2 L1332.7,980.7 L1333.8,959.2 L1334.8,949.3 L1335.8,953.9 L1336.6,969.1 L1337.9,994.0 L1339.0,1002.4 L1339.6,998.6 L1340.7,978.7 L1341.9,955.4 L1343.0,949.5 L1343.7,957.2 L1344.5,972.0 M1344.5,972.0 L1345.1,986.3 L1345.6,995.6 L1346.5,1002.5 L1347.6,992.5 L1348.6,970.2 L1349.6,952.9 M1349.6,952.9 L1350.7,950.8 L1351.6,965.6 L1352.3,979.6 L1353.3,999.0 L1354.0,1002.4 L1355.1,988.6 L1355.8,973.1 L1356.4,961.8 L1357.3,949.4 L1357.9,950.1 M1357.9,950.1 L1358.9,966.8 L1359.7,984.0 L1360.7,1000.8 L1361.2,1002.5 L1362.0,994.4 L1362.9,974.3 L1363.4,962.3 L1364.3,949.9 L1364.8,949.6 L1365.5,957.0 L1366.2,971.7 L1367.0,991.6 L1367.5,999.8 M1367.5,999.8 L1368.1,1002.6 L1369.1,991.6 L1370.0,970.0 L1370.7,954.8 L1371.3,949.2 L1372.2,955.8 L1373.0,971.6 L1373.6,987.0 M1373.6,987.0 L1374.6,1002.1 L1375.2,1001.1 L1376.1,984.5 L1377.0,964.0 L1377.8,950.3 L1378.7,952.4 L1379.6,970.6 L1380.6,994.2 M1380.6,994.2 L1381.6,1002.2 L1382.1,995.9 L1382.6,985.0 L1383.6,960.4 L1384.2,951.6 L1384.7,949.2 L1385.6,961.2 L1386.6,987.0 M1386.6,987.0 L1387.6,1002.1 L1388.3,999.1 L1388.9,986.8 L1390.0,960.7 L1390.8,949.2 L1391.6,954.9 L1392.0,963.0 L1392.5,976.2 L1392.9,986.6 L1393.8,1002.2 L1394.4,1000.9 L1394.9,993.3 M1394.9,993.3 L1395.6,974.4 L1396.1,961.3 L1396.8,950.0 L1397.8,956.0 L1398.7,978.6 L1399.2,992.1 L1400.2,1002.6 M1400.2,1002.6 L1400.8,996.2 L1401.5,979.5 L1402.0,963.9 L1403.0,949.2 L1403.6,952.4 L1404.4,970.3 L1405.1,990.5 L1405.9,1002.3 L1406.3,1001.5 L1407.0,989.6 L1407.9,963.3 L1408.6,950.6 L1409.1,949.5 L1409.5,953.8 L1410.0,966.3 M1410.0,966.3 L1410.8,988.7 L1411.2,997.0 L1411.6,1001.9 L1412.3,998.4 L1413.2,977.0 L1413.8,960.2 L1414.5,949.4 L1415.0,951.2 L1415.5,960.5 M1415.5,960.5 L1416.1,978.1 L1416.6,991.3 L1417.2,1001.7 L1417.6,1002.1 L1418.5,985.7 L1419.2,964.8 L1419.6,955.3 L1420.1,949.6 L1420.9,956.1 L1421.4,970.4 M1421.4,970.4 L1421.9,985.1 L1422.2,994.3 L1423.0,1002.7 L1423.6,995.2 L1424.4,972.6 L1424.8,960.3 L1425.6,949.2 L1426.4,957.9 L1427.2,980.7 L1427.9,999.2 M1427.9,999.2 L1428.5,1002.4 L1428.8,998.4 L1429.5,981.0 L1429.8,970.1 L1430.2,959.5 L1430.8,950.0 L1431.2,949.7 L1431.7,958.9 L1432.5,982.4 L1432.9,994.2 L1433.7,1002.6 M1433.7,1002.6 L1434.5,987.8 L1434.9,977.1 L1435.4,960.4 L1436.1,949.3 L1436.8,956.2 L1437.3,969.0 L1438.0,992.0 L1438.5,1001.6 L1438.9,1002.1 L1439.5,991.5 L1440.2,971.6 M1440.2,971.6 L1440.9,952.3 L1441.5,950.6 L1441.9,956.7 L1442.5,974.7 L1443.0,990.2 L1443.7,1002.4 L1444.0,1001.9 L1444.6,988.8 L1445.4,965.6 L1445.7,956.5 M1445.7,956.5 L1446.0,950.9 L1446.7,953.8 L1447.5,975.6 L1447.9,988.5 L1448.7,1002.6 L1449.2,998.7 L1449.7,983.7 L1450.3,965.6 L1450.7,953.4 L1451.5,951.1 L1452.1,965.3 L1452.8,990.6 L1453.4,1002.2 L1454.2,995.0 L1454.7,977.8 M1454.7,977.8 L1455.2,960.3 L1455.8,949.7 L1456.1,949.7 L1456.8,963.3 L1457.1,975.6 L1457.9,998.2 L1458.2,1002.4 L1458.8,996.9 L1459.5,976.3 L1460.0,958.2 L1460.4,951.3 L1461.0,952.6 L1461.5,963.9 M1461.5,963.9 L1461.9,978.8 L1462.5,997.6 L1463.2,1000.8 L1463.6,993.9 L1464.1,977.6 L1464.7,957.6 L1465.1,950.0 L1465.8,956.0 L1466.3,974.2 L1466.7,985.7 L1467.0,996.3 L1467.4,1002.1 L1467.8,1000.0 M1467.8,1000.0 L1468.5,979.6 L1468.9,967.4 L1469.2,956.5 L1469.6,949.9 L1470.1,952.7 L1470.6,965.8 L1471.1,983.1 L1471.4,994.3 L1472.1,1002.6 L1472.6,994.6 L1473.2,971.3 L1473.5,961.2 M1473.5,961.2 L1474.0,950.4 L1474.4,950.6 L1475.1,967.4 L1475.6,989.0 L1476.2,1001.3 L1476.5,1002.5 L1477.1,990.8 L1477.7,966.1 L1478.3,950.5 L1479.0,955.4 L1479.6,973.1 M1479.6,973.1 L1480.0,988.4 L1480.3,998.8 L1480.9,1001.2 L1481.5,984.1 L1482.1,963.4 L1482.7,949.7 L1483.2,952.5 L1483.8,972.3 M1483.8,972.3 L1484.3,993.2 L1484.7,1001.4 L1485.2,1000.2 L1485.8,984.3 L1486.1,970.5 L1486.8,951.1 L1487.4,952.8 L1487.7,961.6 L1488.0,975.0 L1488.3,985.3 L1488.9,1002.1 L1489.3,1001.7 L1489.9,985.5 L1490.3,966.7 L1490.6,957.2 M1490.6,957.2 L1491.0,950.2 L1491.3,950.3 L1491.9,965.4 L1492.3,981.8 L1492.6,993.2 L1493.3,1002.6 L1493.7,993.7 L1494.0,983.6 L1494.7,958.3 L1495.2,949.2 M1495.2,949.2 L1495.6,954.5 L1495.9,964.4 L1496.4,986.1 L1496.7,996.0 L1497.4,1001.9 L1497.9,987.3 L1498.5,965.3 M1498.5,965.3 L1499.0,950.3 L1499.6,954.9 L1500.0,970.1 L1500.6,993.0 L1500.9,1000.5 L1501.4,1000.5 L1502.0,983.4 L1502.3,969.4 L1502.6,958.6 L1503.2,949.4 L1503.8,963.1 L1504.0,974.8 L1504.5,993.8 L1504.8,1001.3 M1504.8,1001.3 L1505.2,1002.4 L1505.8,986.4 L1506.3,965.2 L1506.8,950.3 L1507.1,950.3 L1507.7,965.5 M1507.7,965.5 L1508.2,986.8 L1508.5,999.0 L1509.0,1002.4 L1509.3,996.1 L1509.8,978.1 L1510.1,964.8 L1510.5,952.1 L1511.0,952.1 L1511.5,968.3 L1512.0,988.5 L1512.3,997.8 L1512.8,1001.7 L1513.3,988.6 L1513.9,963.0 M1513.9,963.0 L1514.4,949.3 L1515.0,959.5 L1515.5,977.7 L1516.0,997.8 L1516.2,1002.5 L1516.5,1002.0 L1517.0,986.9 L1517.5,965.6 L1518.1,949.7 L1518.4,951.4 L1518.8,964.1 M1518.8,964.1 L1519.3,987.2 L1519.8,1001.1 L1520.3,998.5 L1520.7,985.1 L1521.2,961.3 L1521.8,949.3 M1521.8,949.3 L1522.3,959.7 L1522.7,975.7 L1523.2,998.0 L1523.6,1002.8 L1524.0,995.6 M1524.0,995.6 L1524.6,970.7 L1525.0,953.5 L1525.5,949.8 L1525.8,957.6 L1526.2,975.0 L1526.6,992.6 L1527.1,1002.8 L1527.5,997.2 L1527.8,984.4 M1527.8,984.4 L1528.1,970.8 L1528.7,950.9 L1529.1,951.7 L1529.4,959.9 L1529.7,975.0 M1529.7,975.0 L1530.2,994.7 L1530.5,1002.0 L1531.0,996.4 L1531.4,979.4 L1531.9,958.8 L1532.3,949.3 M1532.3,949.3 L1532.6,951.7 L1533.1,971.9 L1533.6,994.8 L1533.9,1001.6 L1534.3,1000.2 L1534.7,986.3 L1535.0,970.8 L1535.3,956.4 L1535.6,949.8 L1536.1,953.9 M1536.1,953.9 L1536.4,967.9 L1536.7,979.9 L1537.0,992.9 L1537.2,1000.7 L1537.6,1000.8 L1538.0,987.1 L1538.4,970.3 L1538.8,954.2 L1539.2,949.7 L1539.5,955.5 L1539.7,964.4 L1540.2,990.2 L1540.5,999.5 L1540.8,1002.8 L1541.2,992.9 M1541.2,992.9 L1541.8,967.2 L1542.0,956.7 L1542.4,949.5 L1542.9,957.7 L1543.1,967.8 L1543.4,982.4 L1543.8,998.9 L1544.3,1001.0 L1544.5,994.1 L1544.8,978.2 M1544.8,978.2 L1545.2,959.0 L1545.6,949.6 L1546.0,953.7 L1546.5,977.0 L1547.1,999.4 L1547.3,1002.8 L1547.6,998.6 L1547.9,985.3 L1548.2,973.3 L1548.4,961.2 L1548.8,950.0 L1549.3,957.0 L1549.6,970.4 M1549.6,970.4 L1549.9,984.1 L1550.3,999.8 L1550.6,1002.7 L1550.8,999.5 L1551.0,991.5 L1551.5,967.2 L1551.7,956.9 L1552.1,949.3 L1552.5,955.2 L1552.9,975.7 L1553.3,993.4 L1553.5,1001.4 L1553.8,1002.3 L1554.1,995.8 L1554.3,983.6 M1554.3,983.6 L1554.6,969.0 L1554.9,956.0 L1555.3,949.3 L1555.6,956.8 L1555.9,966.4 L1556.2,983.7 L1556.7,1001.7 L1557.2,996.5 L1557.5,983.2 L1557.7,970.3 L1558.0,956.9 L1558.2,950.5 L1558.5,950.1 L1559.0,967.1 M1559.0,967.1 L1559.4,991.4 L1559.8,1001.8 L1560.1,1000.0 L1560.5,983.1 L1560.9,961.5 L1561.3,949.7 L1561.8,955.4 L1562.1,973.0 L1562.4,985.5 L1562.8,1001.0 L1563.2,1000.3 M1563.2,1000.3 L1563.4,991.9 L1563.6,979.1 L1564.0,959.2 L1564.3,950.1 L1564.8,954.7 L1565.0,966.8 L1565.4,988.0 L1565.8,1001.5 L1566.0,1002.6 M1566.0,1002.6 L1566.3,996.4 L1566.6,982.5 L1566.8,967.1 L1567.1,957.1 L1567.3,950.1 L1567.7,952.4 L1567.9,962.1 L1568.3,982.6 L1568.6,997.1 L1568.9,1002.9 M1568.9,1002.9 L1569.2,999.0 L1569.6,979.6 L1569.8,968.0 L1570.3,950.3 L1570.6,952.4 L1571.1,973.7 L1571.4,992.4 M1571.4,992.4 L1571.7,1001.7 L1572.0,1001.4 L1572.4,982.8 L1572.8,964.0 L1573.1,952.1 L1573.3,949.3 L1573.5,952.7 L1573.8,965.5 L1574.1,983.3 L1574.6,1000.9 M1574.6,1000.9 L1574.8,1002.8 L1575.1,995.4 L1575.3,984.7 L1575.6,970.1 L1575.9,954.6 L1576.3,950.5 L1576.5,957.0 L1576.7,968.3 L1577.1,990.0 M1577.1,990.0 L1577.5,1001.7 L1577.7,1002.5 L1578.0,990.9 L1578.5,965.2 L1578.9,950.4 L1579.3,956.1 L1579.7,976.6 M1579.7,976.6 L1580.0,991.7 L1580.4,1002.8 L1580.7,996.3 L1580.9,986.7 L1581.2,970.3 L1581.7,951.0 L1582.0,951.9 L1582.3,963.2 L1582.7,985.0 L1583.0,1000.7 L1583.2,1002.8 L1583.6,995.1 L1584.0,973.0 L1584.2,961.4 L1584.5,950.2 M1584.5,950.2 L1584.7,949.9 L1584.9,956.9 L1585.3,978.3 L1585.6,993.4 L1586.0,1002.8 M1586.0,1002.8 L1586.4,992.5 L1586.7,972.4 L1586.9,960.5 L1587.2,950.3 L1587.6,955.2 L1588.0,973.4 M1588.0,973.4 L1588.2,984.8 L1588.5,999.3 L1588.8,1002.5 L1589.1,993.3 L1589.4,977.2 L1589.7,955.7 L1590.1,949.3 M1590.1,949.3 L1590.5,960.7 L1590.9,986.2 L1591.3,1002.2 L1591.7,997.1 L1591.9,988.9 L1592.0,978.9 L1592.2,965.8 L1592.5,952.1 L1592.8,949.5 L1593.0,953.9 L1593.4,976.2 L1593.7,992.7 L1593.9,1001.0 L1594.2,1001.3 L1594.6,981.7 M1594.6,981.7 L1595.0,960.1 L1595.4,949.3 L1595.6,952.7 L1596.0,970.8 L1596.2,986.7 L1596.5,999.1 L1596.8,1002.6 L1597.0,994.1 L1597.4,971.8 L1597.7,958.1 L1597.9,949.6 L1598.2,952.8 M1598.2,952.8 L1598.5,968.9 L1598.9,988.4 L1599.0,997.1 L1599.4,1001.9 L1599.7,988.9 L1599.9,976.3 L1600.2,958.9 L1600.6,949.4 L1601.0,962.5 L1601.3,979.2 L1601.5,992.5 L1601.9,1002.8 L1602.3,991.6 L1602.6,970.8 M1602.6,970.8 L1602.9,956.0 L1603.3,949.9 L1603.5,956.1 L1603.8,978.1 L1604.2,998.3 L1604.5,1002.6 L1604.7,995.4 M1604.7,995.4 L1605.1,975.5 L1605.3,959.7 L1605.6,950.2 L1605.8,950.5 L1606.2,966.1 L1606.4,979.0 L1606.7,995.6 L1606.9,1002.8 L1607.3,991.8 L1607.5,980.4 L1607.8,961.2 L1608.0,952.0 M1608.0,952.0 L1608.4,953.1 L1608.6,961.8 L1609.0,986.9 L1609.3,1001.3 L1609.5,1002.5 L1609.8,994.3 L1610.0,980.9 L1610.3,962.9 L1610.6,949.6 M1610.6,949.6 L1610.9,953.3 L1611.3,976.1 L1611.7,998.3 L1611.9,1002.8 L1612.1,1000.6 L1612.4,984.7 L1612.7,968.4 L1612.9,956.0 L1613.3,950.2 L1613.6,961.9 M1613.6,961.9 L1613.8,976.2 L1614.1,994.5 L1614.4,1002.8 L1614.7,994.0 L1615.0,978.2 M1615.0,978.2 L1615.2,960.3 L1615.4,952.0 L1615.8,952.3 L1616.2,972.9 L1616.3,983.3 L1616.6,1000.5 L1617.0,998.3 L1617.4,977.0 L1617.7,955.7 L1617.9,949.7 L1618.3,958.2 M1618.3,958.2 L1618.6,973.3 L1618.9,996.0 L1619.3,1002.6 L1619.6,991.9 L1619.9,966.3 L1620.3,949.8 L1620.6,952.3 L1620.8,965.5 L1621.2,990.4 L1621.5,1001.5 L1621.8,997.9 L1622.0,986.8 L1622.2,972.3 L1622.5,957.3 M1622.5,957.3 L1622.7,949.9 L1622.9,952.2 L1623.1,961.6 L1623.3,974.0 L1623.6,990.3 L1623.7,999.5 L1624.0,1002.7 L1624.2,995.7 L1624.6,971.4 L1624.8,956.3 L1625.1,949.3 L1625.5,961.7 M1625.5,961.7 L1625.7,978.9 L1625.9,992.8 L1626.2,1002.6 L1626.5,995.2 L1626.8,981.9 L1627.1,960.1 M1627.1,960.1 L1627.3,950.0 L1627.6,952.5 L1627.9,968.7 L1628.1,986.8 L1628.3,997.4 L1628.5,1002.7 L1628.7,1001.6 L1629.0,984.0 L1629.3,963.1 L1629.7,949.4 M1629.7,949.4 L1629.9,952.8 L1630.2,967.9 L1630.4,987.6 L1630.6,997.5 L1630.9,1002.7 L1631.2,993.1 L1631.4,976.7 M1631.4,976.7 L1631.6,961.1 L1631.8,951.9 L1632.0,949.3 L1632.3,956.8 L1632.4,968.5 L1632.6,980.2 L1633.0,1000.8 L1633.3,998.7 L1633.5,986.0 L1633.8,967.9 L1634.0,956.3 L1634.3,950.3 L1634.5,958.6 L1634.9,981.7 L1635.2,999.7 M1635.2,999.7 L1635.3,1002.8 L1635.5,1001.4 L1635.7,990.5 L1635.8,980.3 L1636.2,956.5 L1636.5,950.2 L1636.8,962.4 L1637.0,977.4 L1637.2,990.7 L1637.4,999.4 L1637.6,1002.1 L1637.8,996.0 L1638.0,984.1 L1638.3,962.2 M1638.3,962.2 L1638.6,949.4 L1638.9,955.8 L1639.3,979.8 L1639.6,999.4 L1639.8,1002.6 L1640.0,995.3 L1640.2,983.5 M1640.2,983.5 L1640.5,960.5 L1640.8,950.1 L1641.1,955.8 L1641.3,971.9 L1641.7,995.2 L1642.0,1002.8 L1642.2,994.1 L1642.5,972.7 L1642.8,953.8 L1643.0,949.7 M1643.0,949.7 L1643.3,956.3 L1643.4,966.3 L1643.7,985.6 L1643.9,999.5 L1644.2,1001.0 L1644.4,992.6 L1644.7,971.5 L1645.0,952.7 L1645.2,949.5 L1645.5,958.6 L1645.7,974.6 L1646.0,995.7 L1646.3,1002.3 L1646.5,992.2 L1646.7,982.6 M1646.7,982.6 L1647.0,958.2 L1647.3,949.4 L1647.4,951.7 L1647.7,968.5 L1648.0,986.3 L1648.1,997.0 L1648.3,1002.8 L1648.6,996.3 L1648.8,982.7 L1649.0,969.9 L1649.1,959.7 L1649.3,950.3 L1649.6,953.6 L1649.8,966.0 M1649.8,966.0 L1650.0,983.1 L1650.3,1000.8 L1650.6,1000.7 L1650.9,980.0 L1651.2,957.3 L1651.6,949.8 L1651.8,959.6 L1652.1,981.9 L1652.4,1001.5 L1652.6,1002.8 L1652.8,995.3 L1653.1,974.2 M1653.1,974.2 L1653.3,960.8 L1653.4,953.0 L1653.6,949.8 L1653.8,954.1 L1653.9,963.9 L1654.1,974.8 L1654.4,995.5 L1654.5,1001.4 L1654.8,997.5 L1655.1,980.8 L1655.3,964.0 L1655.4,954.3 M1655.4,954.3 L1655.6,949.3 L1655.8,953.6 L1656.1,974.6 L1656.4,992.5 L1656.5,999.5 M1656.5,999.5 L1656.8,999.8 L1657.1,977.7 L1657.5,954.1 L1657.7,949.4 L1657.9,954.9 L1658.2,974.4 L1658.3,986.4 L1658.5,999.5 L1658.7,1002.8 L1659.0,989.8 L1659.1,979.5 L1659.5,955.9 L1659.6,950.7 M1659.6,950.7 L1659.9,954.9 L1660.1,969.9 L1660.3,983.4 L1660.5,996.6 L1660.8,1001.8 L1661.0,994.6 L1661.2,972.2 L1661.5,952.2 L1661.7,949.5 L1662.0,958.9 M1662.0,958.9 L1662.2,976.7 L1662.5,998.8 L1662.7,1002.9 L1662.9,998.4 L1663.1,980.6 L1663.3,967.8 M1663.3,967.8 L1663.5,955.6 L1663.7,949.7 L1664.0,961.1 L1664.2,980.3 L1664.5,1000.0 L1664.7,1002.8 L1665.0,989.2 M1665.0,989.2 L1665.2,973.7 L1665.5,952.7 L1665.8,950.9 L1666.0,966.2 L1666.3,986.6 L1666.5,1001.9 L1666.7,1001.6 L1667.0,986.4 L1667.1,974.2 L1667.4,955.5 M1667.4,955.5 L1667.7,950.6 L1668.0,969.4 L1668.2,983.9 L1668.5,1001.6 L1668.7,1000.0 L1668.9,987.3 L1669.1,970.7 L1669.3,955.4 L1669.5,949.3 L1669.8,961.2 L1670.1,983.7 L1670.3,995.0 M1670.3,995.0 L1670.5,1002.8 L1670.8,993.2 L1671.1,967.3 L1671.3,955.0 L1671.5,949.8 L1671.7,959.8 L1671.9,972.8 L1672.1,985.2 L1672.3,1002.0 L1672.5,1002.6 M1672.5,1002.6 L1672.6,996.6 L1672.8,980.8 L1673.0,965.7 L1673.2,951.8 L1673.4,949.4 L1673.7,960.6 L1673.9,980.0 L1674.1,997.9 L1674.4,1000.8 L1674.6,992.8 L1674.8,975.6 M1674.8,975.6 L1674.9,963.1 L1675.1,952.4 L1675.3,950.0 L1675.6,963.9 L1675.7,977.0 L1676.0,997.8 L1676.3,1002.2 L1676.5,992.1 L1676.8,967.9 L1677.0,954.0 L1677.3,951.6 L1677.6,972.0 L1677.8,989.1 L1678.1,1002.9 M1678.1,1002.9 L1678.3,994.3 L1678.5,976.5 L1678.8,957.5 L1679.0,949.4 L1679.3,963.8 L1679.6,988.8 L1679.9,1002.8 L1680.1,998.5 L1680.2,991.1 L1680.4,979.2 L1680.5,962.9 L1680.7,954.1 M1680.7,954.1 L1680.9,949.6 L1681.0,953.9 L1681.2,965.9 L1681.4,981.3 L1681.7,1000.8 L1681.9,1001.8 L1682.0,995.6 L1682.2,974.5 M1682.2,974.5 L1682.5,952.9 L1682.8,950.7 L1682.9,955.8 L1683.2,977.9 L1683.3,991.1 L1683.6,1002.9 L1683.8,993.5 L1684.1,972.9 L1684.2,961.9 L1684.4,951.3 L1684.5,949.4 L1684.8,960.9 M1684.8,960.9 L1684.9,971.6 L1685.1,989.1 L1685.4,1002.4 L1685.6,996.2 L1685.8,980.9 L1685.9,969.2 L1686.2,951.0 L1686.4,950.0 L1686.6,959.9 L1686.7,969.3 L1686.9,984.7 M1686.9,984.7 L1687.1,1002.1 L1687.4,998.1 L1687.6,979.1 L1687.8,960.1 L1688.0,952.0 L1688.1,949.4 M1688.1,949.4 L1688.4,963.3 L1688.5,975.1 L1688.8,995.0 L1689.0,1002.6 L1689.2,996.6 M1689.2,996.6 L1689.3,986.1 L1689.5,974.1 L1689.7,956.7 L1689.8,949.9 L1690.1,955.4 L1690.4,979.8 L1690.5,991.7 L1690.7,1000.8 L1690.8,1002.8 L1691.0,995.8 L1691.1,983.6 L1691.3,963.3 M1691.3,963.3 L1691.5,951.9 L1691.7,950.3 L1692.0,966.8 L1692.3,990.9 L1692.4,999.9 L1692.6,1002.8 L1692.8,994.0 L1693.0,977.2 L1693.1,966.4 M1693.1,966.4 L1693.3,950.9 L1693.6,953.3 L1693.7,966.8 L1693.9,979.2 L1694.1,998.0 L1694.2,1002.5 L1694.3,1002.1 L1694.6,990.3 L1694.7,973.2 L1695.0,951.9 L1695.2,949.5 M1695.2,949.5 L1695.3,954.2 L1695.5,966.5 L1695.7,990.9 L1696.0,1002.6 L1696.1,1002.1 L1696.2,996.2 L1696.5,972.1 L1696.7,955.1 M1696.7,955.1 L1696.9,949.3 L1697.0,951.7 L1697.1,960.6 L1697.2,970.4 L1697.5,993.8 L1697.8,1002.6 L1698.0,993.3 M1698.0,993.3 L1698.2,970.7 L1698.3,959.3 L1698.5,950.7 L1698.7,952.1 L1698.9,968.4 L1699.1,988.6 M1699.1,988.6 L1699.3,997.7 L1699.5,1001.2 L1699.7,992.6 L1699.9,971.7 L1700.2,952.2 L1700.3,949.3 L1700.5,955.4 L1700.7,973.5 L1701.0,997.5 M1701.0,997.5 L1701.2,1002.4 L1701.4,993.4 L1701.6,972.5 L1701.8,955.9 L1701.9,950.2 L1702.1,950.3 L1702.3,962.9 L1702.5,984.2 L1702.7,998.4 L1702.8,1002.9 L1702.9,1000.8 L1703.2,984.1 L1703.3,970.4 M1703.3,970.4 L1703.5,952.7 L1703.8,952.3 L1704.0,971.3 L1704.2,991.0 L1704.3,998.9 L1704.6,1001.8 L1704.8,983.0 L1705.0,967.5 L1705.2,950.7 M1705.2,950.7 L1705.4,951.6 L1705.7,968.9 L1705.9,990.9 L1706.0,1000.8 L1706.2,1001.7 L1706.4,995.7 L1706.5,985.3 L1706.6,970.2 L1706.8,952.6 M1706.8,952.6 L1707.0,949.6 L1707.3,963.4 L1707.5,984.5 L1707.7,1001.9 L1708.0,997.8 L1708.1,983.3 L1708.3,971.1 L1708.4,955.3 L1708.6,949.3 L1708.8,952.5 L1708.9,961.2 M1708.9,961.2 L1709.1,987.2 L1709.4,1002.2 L1709.5,1000.8 L1709.7,994.6 L1709.8,981.4 L1710.0,962.2 L1710.2,949.3 L1710.4,951.3 L1710.6,967.1 L1710.8,992.6 L1711.1,1002.8 L1711.3,993.3 L1711.5,970.8 L1711.7,953.3 L1711.8,949.6 M1711.8,949.6 L1712.0,951.6 L1712.2,971.7 L1712.4,983.7 L1712.5,995.0 L1712.7,1002.9 L1712.9,991.3 L1713.1,975.5 L1713.3,957.0 L1713.5,950.1 M1713.5,950.1 L1713.8,965.4 L1713.9,975.8 L1714.1,995.5 L1714.2,1001.7 L1714.5,996.5 L1714.7,976.4 L1714.9,954.2 L1715.1,949.4 L1715.2,952.8 L1715.3,962.4 L1715.5,973.6 M1715.5,973.6 L1715.7,995.0 L1715.9,1002.5 L1716.1,993.8 L1716.3,970.7 L1716.5,958.2 L1716.6,949.7 L1716.8,952.4 L1717.0,966.1 L1717.1,976.8 M1717.1,976.8 L1717.2,989.6 L1717.3,998.4 L1717.5,1002.2 L1717.7,992.3 L1718.0,966.2 L1718.2,951.4 L1718.3,949.5 L1718.4,953.7 L1718.6,971.6 L1718.8,994.3 L1719.0,1001.3 M1719.0,1001.3 L1719.1,1001.0 L1719.4,981.1 L1719.6,957.3 L1719.7,950.8 L1719.9,951.2 L1720.1,969.4 L1720.3,989.6 L1720.4,997.6 L1720.6,1002.9 M1720.6,1002.9 L1720.7,999.0 L1720.9,986.9 L1721.1,961.0 L1721.4,949.4 L1721.6,960.8 L1721.8,983.8 L1722.1,1002.0 L1722.2,1000.9 L1722.5,981.1 L1722.7,962.1 L1722.9,949.5 L1723.0,951.5 M1723.0,951.5 L1723.3,970.3 L1723.4,987.2 L1723.7,1002.6 L1723.8,1000.4 L1724.0,988.6 L1724.1,970.0 L1724.4,951.3 L1724.6,952.2 L1724.7,962.1 L1724.9,980.4 L1725.1,999.9 M1725.1,999.9 L1725.3,999.8 L1725.6,981.8 L1725.7,966.1 L1725.9,949.9 L1726.1,951.7 L1726.3,968.4 L1726.5,991.5 L1726.7,1002.7 L1726.8,1001.7 L1727.0,994.2 L1727.2,972.1 L1727.4,954.2 M1727.4,954.2 L1727.6,950.6 L1727.8,965.1 L1728.0,986.7 L1728.2,1002.3 L1728.5,995.1 L1728.6,981.8 L1728.8,958.7 L1729.1,949.6 L1729.2,954.1 L1729.3,968.3 L1729.5,987.6 L1729.7,1001.0 L1729.9,998.6 L1730.0,991.3 L1730.1,980.6 M1730.1,980.6 L1730.3,958.4 L1730.4,950.4 L1730.5,949.4" stroke="#ff0000" stroke-dasharray="9 13"/>
<path d="M443.5,-156.8 L445.5,-135.1 L447.5,-113.8 L449.5,-93.0 L451.5,-72.5 L453.5,-52.5 L455.5,-32.9 L457.5,-13.7 L459.5,5.1 L461.5,23.5 L463.5,41.6 L465.5,59.3 L467.5,76.7 L469.5,93.7 L471.5,110.3 L473.5,126.6 L475.5,142.6 L477.5,158.3 L479.5,173.6 L481.5,188.7 L483.5,203.4 L485.5,217.8 L487.5,232.0 L489.5,245.8 L491.5,259.4 L493.5,272.7 L495.5,285.7 L497.5,298.5 L499.5,311.0 L501.5,323.2 L503.5,335.3 L505.5,347.0 L507.5,358.6 L509.5,369.9 L511.5,380.9 L513.5,391.8 L515.5,402.4 L517.5,412.8 L519.5,423.0 L521.5,433.0 L523.5,442.8 L525.5,452.4 L527.5,461.8 L529.5,471.1 L531.5,480.1 L533.5,489.0 L535.5,497.6 L537.5,506.2 L539.5,514.5 L541.5,522.7 L543.5,530.7 L545.5,538.5 L547.5,546.2 L549.5,553.8 L551.5,561.2 L553.5,568.4 L555.5,575.5 L557.5,582.5 L559.5,589.3 L561.5,596.0 L563.5,602.6 L565.5,609.0 L567.5,615.3 L569.5,621.5 L571.5,627.5 L573.5,633.5 L575.5,639.3 L577.5,645.0 L579.5,650.6 L581.5,656.1 L583.5,661.5 L585.5,666.8 L587.5,671.9 L589.5,677.0 L591.5,682.0 L593.5,686.9 L595.5,691.7 L597.5,696.4 L599.5,701.0 L601.5,705.5 L603.5,709.9 L605.5,714.2 L607.5,718.5 L609.5,722.7 L611.5,726.8 L613.5,730.8 L615.5,734.8 L617.5,738.6 L619.5,742.4 L621.5,746.1 L623.5,749.8 L625.5,753.4 L627.5,756.9 L629.5,760.3 L631.5,763.7 L633.5,767.1 L635.5,770.3 L637.5,773.5 L639.5,776.6 L641.5,779.7 L643.5,782.7 L645.5,785.7 L647.5,788.6 L649.5,791.5 L651.5,794.3 L653.5,797.0 L655.5,799.7 L657.5,802.4 L659.5,805.0 L661.5,807.5 L663.5,810.0 L665.5,812.5 L667.5,814.9 L669.5,817.3 L671.5,819.6 L673.5,821.9 L675.5,824.1 L677.5,826.3 L679.5,828.5 L681.5,830.6 L683.5,832.7 L685.5,834.7 L687.5,836.7 L689.5,838.7 L691.5,840.6 L693.5,842.5 L695.5,844.4 L697.5,846.2 L699.5,848.0 L701.5,849.8 L703.5,851.5 L705.5,853.2 L707.5,854.9 L709.5,856.5 L711.5,858.1 L713.5,859.7 L715.5,861.2 L717.5,862.8 L719.5,864.3 L721.5,865.7 L723.5,867.2 L725.5,868.6 L727.5,870.0 L729.5,871.4 L731.5,872.7 L733.5,874.0 L735.5,875.3 L737.5,876.6 L739.5,877.8 L741.5,879.1 L743.5,880.3 L745.5,881.5 L747.5,882.6 L749.5,883.8 L751.5,884.9 L753.5,886.0 L755.5,887.1 L757.5,888.2 L759.5,889.2 L761.5,890.2 L763.5,891.2 L765.5,892.2 L767.5,893.2 L769.5,894.2 L771.5,895.1 L773.5,896.0 L775.5,896.9 L777.5,897.8 L779.5,898.7 L781.5,899.6 L783.5,900.4 L785.5,901.2 L787.5,902.1 L789.5,902.9 L791.5,903.6 L793.5,904.4 L795.5,905.2 L797.5,905.9 L799.5,906.7 L801.5,907.4 L803.5,908.1 L805.5,908.8 L807.5,909.5 L809.5,910.2 L811.5,910.8 L813.5,911.5 L815.5,912.1 L817.5,912.7 L819.5,913.4 L821.5,914.0 L823.5,914.6 L825.5,915.1 L827.5,915.7 L829.5,916.3 L831.5,916.8 L833.5,917.4 L835.5,917.9 L837.5,918.5 L839.5,919.0 L841.5,919.5 L843.5,920.0 L845.5,920.5 L847.5,921.0 L849.5,921.4 L851.5,921.9 L853.5,922.4 L855.5,922.8 L857.5,923.3 L859.5,923.7 L861.5,924.1 L863.5,924.5 L865.5,925.0 L867.5,925.4 L869.5,925.8 L871.5,926.2 L873.5,926.5 L875.5,926.9 L877.5,927.3 L879.5,927.7 L881.5,928.0 L883.5,928.4 L885.5,928.7 L887.5,929.1 L889.5,929.4 L891.5,929.7 L893.5,930.1 L895.5,930.4 L897.5,930.7 L899.5,931.0 L901.5,931.3 L903.5,931.6 L905.5,931.9 L907.5,932.2 L909.5,932.5 L911.5,932.8 L913.5,933.0 L915.5,933.3 L917.5,933.6 L919.5,933.8 L921.5,934.1 L923.5,934.3 L925.5,934.6 L927.5,934.8 L929.5,935.1 L931.5,935.3 L933.5,935.5 L935.5,935.8 L937.5,936.0 L939.5,936.2 L941.5,936.4 L943.5,936.6 L945.5,936.8 L947.5,937.1 L949.5,937.3 L951.5,937.5 L953.5,937.6 L955.5,937.8 L957.5,938.0 L959.5,938.2 L961.5,938.4 L963.5,938.6 L965.5,938.8 L967.5,938.9 L969.5,939.1 L971.5,939.3 L973.5,939.4 L975.5,939.6 L977.5,939.7 L979.5,939.9 L981.5,940.1 L983.5,940.2 L985.5,940.4 L987.5,940.5 L989.5,940.6 L991.5,940.8 L993.5,940.9 L995.5,941.1 L997.5,941.2 L999.5,941.3 L1001.5,941.5 L1003.5,941.6 L1005.5,941.7 L1007.5,941.8 L1009.5,942.0 L1011.5,942.1 L1013.5,942.2 L1015.5,942.3 L1017.5,942.4 L1019.5,942.5 L1021.5,942.6 L1023.5,942.8 L1025.5,942.9 L1027.5,943.0 L1029.5,943.1 L1031.5,943.2 L1033.5,943.3 L1035.5,943.4 L1037.5,943.5 L1039.5,943.5 L1041.5,943.6 L1043.5,943.7 L1045.5,943.8 L1047.5,943.9 L1049.5,944.0 L1051.5,944.1 L1053.5,944.2 L1055.5,944.2 L1057.5,944.3 L1059.5,944.4 L1061.5,944.5 L1063.5,944.6 L1065.5,944.6 L1067.5,944.7 L1069.5,944.8 L1071.5,944.9 L1073.5,944.9 L1075.5,945.0 L1077.5,945.1 L1079.5,945.1 L1081.5,945.2 L1083.5,945.3 L1085.5,945.3 L1087.5,945.4 L1089.5,945.5 L1091.5,945.5 L1093.5,945.6 L1095.5,945.6 L1097.5,945.7 L1099.5,945.7 L1101.5,945.8 L1103.5,945.9 L1105.5,945.9 L1107.5,946.0 L1109.5,946.0 L1111.5,946.1 L1113.5,946.1 L1115.5,946.2 L1117.5,946.2 L1119.5,946.3 L1121.5,946.3 L1123.5,946.4 L1125.5,946.4 L1127.5,946.4 L1129.5,946.5 L1131.5,946.5 L1133.5,946.6 L1135.5,946.6 L1137.5,946.7 L1139.5,946.7 L1141.5,946.7 L1143.5,946.8 L1145.5,946.8 L1147.5,946.9 L1149.5,946.9 L1151.5,946.9 L1153.5,947.0 L1155.5,947.0 L1157.5,947.0 L1159.5,947.1 L1161.5,947.1 L1163.5,947.1 L1165.5,947.2 L1167.5,947.2 L1169.5,947.2 L1171.5,947.3 L1173.5,947.3 L1175.5,947.3 L1177.5,947.3 L1179.5,947.4 L1181.5,947.4 L1183.5,947.4 L1185.5,947.5 L1187.5,947.5 L1189.5,947.5 L1191.5,947.5 L1193.5,947.6 L1195.5,947.6 L1197.5,947.6 L1199.5,947.6 L1201.5,947.7 L1203.5,947.7 L1205.5,947.7 L1207.5,947.7 L1209.5,947.8 L1211.5,947.8 L1213.5,947.8 L1215.5,947.8 L1217.5,947.8 L1219.5,947.9 L1221.5,947.9 L1223.5,947.9 L1225.5,947.9 L1227.5,947.9 L1229.5,948.0 L1231.5,948.0 L1233.5,948.0 L1235.5,948.0 L1237.5,948.0 L1239.5,948.1 L1241.5,948.1 L1243.5,948.1 L1245.5,948.1 L1247.5,948.1 L1249.5,948.1 L1251.5,948.1 L1253.5,948.2 L1255.5,948.2 L1257.5,948.2 L1259.5,948.2 L1261.5,948.2 L1263.5,948.2 L1265.5,948.3 L1267.5,948.3 L1269.5,948.3 L1271.5,948.3 L1273.5,948.3 L1275.5,948.3 L1277.5,948.3 L1279.5,948.3 L1281.5,948.4 L1283.5,948.4 L1285.5,948.4 L1287.5,948.4 L1289.5,948.4 L1291.5,948.4 L1293.5,948.4 L1295.5,948.4 L1297.5,948.4 L1299.5,948.5 L1301.5,948.5 L1303.5,948.5 L1305.5,948.5 L1307.5,948.5 L1309.5,948.5 L1311.5,948.5 L1313.5,948.5 L1315.5,948.5 L1317.5,948.5 L1319.5,948.6 L1321.5,948.6 L1323.5,948.6 L1325.5,948.6 L1327.5,948.6 L1329.5,948.6 L1331.5,948.6 L1333.5,948.6 L1335.5,948.6 L1337.5,948.6 L1339.5,948.6 L1341.5,948.6 L1343.5,948.6 L1345.5,948.7 L1347.5,948.7 L1349.5,948.7 L1351.5,948.7 L1353.5,948.7 L1355.5,948.7 L1357.5,948.7 L1359.5,948.7 L1361.5,948.7 L1363.5,948.7 L1365.5,948.7 L1367.5,948.7 L1369.5,948.7 L1371.5,948.7 L1373.5,948.7 L1375.5,948.7 L1377.5,948.8 L1379.5,948.8 L1381.5,948.8 L1383.5,948.8 L1385.5,948.8 L1387.5,948.8 L1389.5,948.8 L1391.5,948.8 L1393.5,948.8 L1395.5,948.8 L1397.5,948.8 L1399.5,948.8 L1401.5,948.8 L1403.5,948.8 L1405.5,948.8 L1407.5,948.8 L1409.5,948.8 L1411.5,948.8 L1413.5,948.8 L1415.5,948.8 L1417.5,948.8 L1419.5,948.9 L1421.5,948.9 L1423.5,948.9 L1425.5,948.9 L1427.5,948.9 L1429.5,948.9 L1431.5,948.9 L1433.5,948.9 L1435.5,948.9 L1437.5,948.9 L1439.5,948.9 L1441.5,948.9 L1443.5,948.9 L1445.5,948.9 L1447.5,948.9 L1449.5,948.9 L1451.5,948.9 L1453.5,948.9 L1455.5,948.9 L1457.5,948.9 L1459.5,948.9 L1461.5,948.9 L1463.5,948.9 L1465.5,948.9 L1467.5,948.9 L1469.5,948.9 L1471.5,948.9 L1473.5,948.9 L1475.5,948.9 L1477.5,948.9 L1479.5,948.9 L1481.5,948.9 L1483.5,948.9 L1485.5,948.9 L1487.5,948.9 L1489.5,949.0 L1491.5,949.0 L1493.5,949.0 L1495.5,949.0 L1497.5,949.0 L1499.5,949.0 L1501.5,949.0 L1503.5,949.0 L1505.5,949.0 L1507.5,949.0 L1509.5,949.0 L1511.5,949.0 L1513.5,949.0 L1515.5,949.0 L1517.5,949.0 L1519.5,949.0 L1521.5,949.0 L1523.5,949.0 L1525.5,949.0 L1527.5,949.0 L1529.5,949.0 L1531.5,949.0 L1533.5,949.0 L1535.5,949.0 L1537.5,949.0 L1539.5,949.0 L1541.5,949.0 L1543.5,949.0 L1545.5,949.0 L1547.5,949.0 L1549.5,949.0 L1551.5,949.0 L1553.5,949.0 L1555.5,949.0 L1557.5,949.0 L1559.5,949.0 L1561.5,949.0 L1563.5,949.0 L1565.5,949.0 L1567.5,949.0 L1569.5,949.0 L1571.5,949.0 L1573.5,949.0 L1575.5,949.0 L1577.5,949.0 L1579.5,949.0 L1581.5,949.0 L1583.5,949.0 L1585.5,949.0 L1587.5,949.0 L1589.5,949.0 L1591.5,949.0 L1593.5,949.0 L1595.5,949.0 L1597.5,949.0 L1599.5,949.0 L1601.5,949.0 L1603.5,949.0 L1605.5,949.0 L1607.5,949.0 L1609.5,949.0 L1611.5,949.0 L1613.5,949.0 L1615.5,949.0 L1617.5,949.0 L1619.5,949.0 L1621.5,949.0 L1623.5,949.0 L1625.5,949.0 L1627.5,949.0 L1629.5,949.0 L1631.5,949.0 L1633.5,949.0 L1635.5,949.0 L1637.5,949.0 L1639.5,949.0 L1641.5,949.0 L1643.5,949.0 L1645.5,949.0 L1647.5,949.0 L1649.5,949.0 L1651.5,949.0 L1653.5,949.0 L1655.5,949.0 L1657.5,949.0 L1659.5,949.0 L1661.5,949.0 L1663.5,949.0 L1665.5,949.0 L1667.5,949.0 L1669.5,949.0 L1671.5,949.0 L1673.5,949.0 L1675.5,949.0 L1677.5,949.0 L1679.5,949.1 L1681.5,949.1 L1683.5,949.1 L1685.5,949.1 L1687.5,949.1 L1689.5,949.1 L1691.5,949.1 L1693.5,949.1 L1695.5,949.1 L1697.5,949.1 L1699.5,949.1 L1701.5,949.1 L1703.5,949.1 L1705.5,949.1 L1707.5,949.1 L1709.5,949.1 L1711.5,949.1 L1713.5,949.1 L1715.5,949.1 L1717.5,949.1 L1719.5,949.1 L1721.5,949.1 L1723.5,949.1 L1725.5,949.1 L1727.5,949.1 L1729.5,949.1 L1731.5,949.1" stroke="#008000" stroke-dasharray="5 5.45"/>
<path d="M443.5,-118.6 L445.5,-97.2 L447.5,-76.1 L449.5,-55.5 L451.5,-35.2 L453.5,-15.4 L455.5,4.0 L457.5,23.0 L459.5,41.6 L461.5,59.9 L463.5,77.8 L465.5,95.3 L467.5,112.5 L469.5,129.3 L471.5,145.8 L473.5,162.0 L475.5,177.8 L477.5,193.3 L479.5,208.5 L481.5,223.4 L483.5,238.0 L485.5,252.2 L487.5,266.2 L489.5,280.0 L491.5,293.4 L493.5,306.6 L495.5,319.5 L497.5,332.1 L499.5,344.5 L501.5,356.6 L503.5,368.5 L505.5,380.2 L507.5,391.6 L509.5,402.8 L511.5,413.7 L513.5,424.5 L515.5,435.0 L517.5,445.3 L519.5,455.4 L521.5,465.3 L523.5,475.0 L525.5,484.5 L527.5,493.9 L529.5,503.0 L531.5,511.9 L533.5,520.7 L535.5,529.3 L537.5,537.7 L539.5,546.0 L541.5,554.1 L543.5,562.0 L545.5,569.8 L547.5,577.4 L549.5,584.9 L551.5,592.2 L553.5,599.4 L555.5,606.4 L557.5,613.3 L559.5,620.1 L561.5,626.7 L563.5,633.2 L565.5,639.5 L567.5,645.8 L569.5,651.9 L571.5,657.9 L573.5,663.8 L575.5,669.6 L577.5,675.2 L579.5,680.8 L581.5,686.2 L583.5,691.5 L585.5,696.7 L587.5,701.9 L589.5,706.9 L591.5,711.8 L593.5,716.7 L595.5,721.4 L597.5,726.1 L599.5,730.6 L601.5,735.1 L603.5,739.5 L605.5,743.8 L607.5,748.0 L609.5,752.1 L611.5,756.2 L613.5,760.2 L615.5,764.1 L617.5,767.9 L619.5,771.7 L621.5,775.3 L623.5,779.0 L625.5,782.5 L627.5,786.0 L629.5,789.4 L631.5,792.8 L633.5,796.1 L635.5,799.3 L637.5,802.4 L639.5,805.6 L641.5,808.6 L643.5,811.6 L645.5,814.5 L647.5,817.4 L649.5,820.2 L651.5,823.0 L653.5,825.7 L655.5,828.4 L657.5,831.0 L659.5,833.6 L661.5,836.1 L663.5,838.6 L665.5,841.0 L667.5,843.4 L669.5,845.8 L671.5,848.1 L673.5,850.3 L675.5,852.5 L677.5,854.7 L679.5,856.9 L681.5,859.0 L683.5,861.0 L685.5,863.0 L687.5,865.0 L689.5,867.0 L691.5,868.9 L693.5,870.8 L695.5,872.6 L697.5,874.4 L699.5,876.2 L701.5,877.9 L703.5,879.7 L705.5,881.3 L707.5,883.0 L709.5,884.6 L711.5,886.2 L713.5,887.8 L715.5,889.3 L717.5,890.8 L719.5,892.3 L721.5,893.8 L723.5,895.2 L725.5,896.6 L727.5,898.0 L729.5,899.3 L731.5,900.7 L733.5,902.0 L735.5,903.2 L737.5,904.5 L739.5,905.7 L741.5,907.0 L743.5,908.2 L745.5,909.3 L747.5,910.5 L749.5,911.6 L751.5,912.7 L753.5,913.8 L755.5,914.9 L757.5,915.9 L759.5,917.0 L761.5,918.0 L763.5,919.0 L765.5,920.0 L767.5,920.9 L769.5,921.9 L771.5,922.8 L773.5,923.7 L775.5,924.6 L777.5,925.5 L779.5,926.4 L781.5,927.2 L783.5,928.1 L785.5,928.9 L787.5,929.7 L789.5,930.5 L791.5,931.3 L793.5,932.1 L795.5,932.8 L797.5,933.6 L799.5,934.3 L801.5,935.0 L803.5,935.7 L805.5,936.4 L807.5,937.1 L809.5,937.7 L811.5,938.4 L813.5,939.0 L815.5,939.7 L817.5,940.3 L819.5,940.9 L821.5,941.5 L823.5,942.1 L825.5,942.7 L827.5,943.2 L829.5,943.8 L831.5,944.4 L833.5,944.9 L835.5,945.4 L837.5,945.9 L839.5,946.5 L841.5,947.0 L843.5,947.5 L845.5,948.0 L847.5,948.4 L849.5,948.9 L851.5,949.4 L853.5,949.8 L855.5,950.3 L857.5,950.7 L859.5,951.1 L861.5,951.6 L863.5,952.0 L865.5,952.4 L867.5,952.8 L869.5,953.2 L871.5,953.6 L873.5,954.0 L875.5,954.3 L877.5,954.7 L879.5,955.1 L881.5,955.4 L883.5,955.8 L885.5,956.1 L887.5,956.5 L889.5,956.8 L891.5,957.1 L893.5,957.5 L895.5,957.8 L897.5,958.1 L899.5,958.4 L901.5,958.7 L903.5,959.0 L905.5,959.3 L907.5,959.6 L909.5,959.8 L911.5,960.1 L913.5,960.4 L915.5,960.7 L917.5,960.9 L919.5,961.2 L921.5,961.4 L923.5,961.7 L925.5,961.9 L927.5,962.2 L929.5,962.4 L931.5,962.6 L933.5,962.9 L935.5,963.1 L937.5,963.3 L939.5,963.5 L941.5,963.7 L943.5,964.0 L945.5,964.2 L947.5,964.4 L949.5,964.6 L951.5,964.8 L953.5,965.0 L955.5,965.1 L957.5,965.3 L959.5,965.5 L961.5,965.7 L963.5,965.9 L965.5,966.0 L967.5,966.2 L969.5,966.4 L971.5,966.6 L973.5,966.7 L975.5,966.9 L977.5,967.0 L979.5,967.2 L981.5,967.3 L983.5,967.5 L985.5,967.6 L987.5,967.8 L989.5,967.9 L991.5,968.1 L993.5,968.2 L995.5,968.3 L997.5,968.5 L999.5,968.6 L1001.5,968.7 L1003.5,968.9 L1005.5,969.0 L1007.5,969.1 L1009.5,969.2 L1011.5,969.3 L1013.5,969.5 L1015.5,969.6 L1017.5,969.7 L1019.5,969.8 L1021.5,969.9 L1023.5,970.0 L1025.5,970.1 L1027.5,970.2 L1029.5,970.3 L1031.5,970.4 L1033.5,970.5 L1035.5,970.6 L1037.5,970.7 L1039.5,970.8 L1041.5,970.9 L1043.5,971.0 L1045.5,971.1 L1047.5,971.2 L1049.5,971.2 L1051.5,971.3 L1053.5,971.4 L1055.5,971.5 L1057.5,971.6 L1059.5,971.6 L1061.5,971.7 L1063.5,971.8 L1065.5,971.9 L1067.5,971.9 L1069.5,972.0 L1071.5,972.1 L1073.5,972.2 L1075.5,972.2 L1077.5,972.3 L1079.5,972.4 L1081.5,972.4 L1083.5,972.5 L1085.5,972.6 L1087.5,972.6 L1089.5,972.7 L1091.5,972.7 L1093.5,972.8 L1095.5,972.9 L1097.5,972.9 L1099.5,973.0 L1101.5,973.0 L1103.5,973.1 L1105.5,973.1 L1107.5,973.2 L1109.5,973.2 L1111.5,973.3 L1113.5,973.3 L1115.5,973.4 L1117.5,973.4 L1119.5,973.5 L1121.5,973.5 L1123.5,973.6 L1125.5,973.6 L1127.5,973.7 L1129.5,973.7 L1131.5,973.8 L1133.5,973.8 L1135.5,973.8 L1137.5,973.9 L1139.5,973.9 L1141.5,974.0 L1143.5,974.0 L1145.5,974.0 L1147.5,974.1 L1149.5,974.1 L1151.5,974.1 L1153.5,974.2 L1155.5,974.2 L1157.5,974.2 L1159.5,974.3 L1161.5,974.3 L1163.5,974.3 L1165.5,974.4 L1167.5,974.4 L1169.5,974.4 L1171.5,974.5 L1173.5,974.5 L1175.5,974.5 L1177.5,974.6 L1179.5,974.6 L1181.5,974.6 L1183.5,974.6 L1185.5,974.7 L1187.5,974.7 L1189.5,974.7 L1191.5,974.8 L1193.5,974.8 L1195.5,974.8 L1197.5,974.8 L1199.5,974.8 L1201.5,974.9 L1203.5,974.9 L1205.5,974.9 L1207.5,974.9 L1209.5,975.0 L1211.5,975.0 L1213.5,975.0 L1215.5,975.0 L1217.5,975.0 L1219.5,975.1 L1221.5,975.1 L1223.5,975.1 L1225.5,975.1 L1227.5,975.1 L1229.5,975.2 L1231.5,975.2 L1233.5,975.2 L1235.5,975.2 L1237.5,975.2 L1239.5,975.3 L1241.5,975.3 L1243.5,975.3 L1245.5,975.3 L1247.5,975.3 L1249.5,975.3 L1251.5,975.4 L1253.5,975.4 L1255.5,975.4 L1257.5,975.4 L1259.5,975.4 L1261.5,975.4 L1263.5,975.4 L1265.5,975.5 L1267.5,975.5 L1269.5,975.5 L1271.5,975.5 L1273.5,975.5 L1275.5,975.5 L1277.5,975.5 L1279.5,975.5 L1281.5,975.6 L1283.5,975.6 L1285.5,975.6 L1287.5,975.6 L1289.5,975.6 L1291.5,975.6 L1293.5,975.6 L1295.5,975.6 L1297.5,975.6 L1299.5,975.7 L1301.5,975.7 L1303.5,975.7 L1305.5,975.7 L1307.5,975.7 L1309.5,975.7 L1311.5,975.7 L1313.5,975.7 L1315.5,975.7 L1317.5,975.7 L1319.5,975.8 L1321.5,975.8 L1323.5,975.8 L1325.5,975.8 L1327.5,975.8 L1329.5,975.8 L1331.5,975.8 L1333.5,975.8 L1335.5,975.8 L1337.5,975.8 L1339.5,975.8 L1341.5,975.8 L1343.5,975.8 L1345.5,975.9 L1347.5,975.9 L1349.5,975.9 L1351.5,975.9 L1353.5,975.9 L1355.5,975.9 L1357.5,975.9 L1359.5,975.9 L1361.5,975.9 L1363.5,975.9 L1365.5,975.9 L1367.5,975.9 L1369.5,975.9 L1371.5,975.9 L1373.5,975.9 L1375.5,975.9 L1377.5,976.0 L1379.5,976.0 L1381.5,976.0 L1383.5,976.0 L1385.5,976.0 L1387.5,976.0 L1389.5,976.0 L1391.5,976.0 L1393.5,976.0 L1395.5,976.0 L1397.5,976.0 L1399.5,976.0 L1401.5,976.0 L1403.5,976.0 L1405.5,976.0 L1407.5,976.0 L1409.5,976.0 L1411.5,976.0 L1413.5,976.0 L1415.5,976.0 L1417.5,976.0 L1419.5,976.0 L1421.5,976.1 L1423.5,976.1 L1425.5,976.1 L1427.5,976.1 L1429.5,976.1 L1431.5,976.1 L1433.5,976.1 L1435.5,976.1 L1437.5,976.1 L1439.5,976.1 L1441.5,976.1 L1443.5,976.1 L1445.5,976.1 L1447.5,976.1 L1449.5,976.1 L1451.5,976.1 L1453.5,976.1 L1455.5,976.1 L1457.5,976.1 L1459.5,976.1 L1461.5,976.1 L1463.5,976.1 L1465.5,976.1 L1467.5,976.1 L1469.5,976.1 L1471.5,976.1 L1473.5,976.1 L1475.5,976.1 L1477.5,976.1 L1479.5,976.1 L1481.5,976.1 L1483.5,976.1 L1485.5,976.1 L1487.5,976.1 L1489.5,976.1 L1491.5,976.1 L1493.5,976.2 L1495.5,976.2 L1497.5,976.2 L1499.5,976.2 L1501.5,976.2 L1503.5,976.2 L1505.5,976.2 L1507.5,976.2 L1509.5,976.2 L1511.5,976.2 L1513.5,976.2 L1515.5,976.2 L1517.5,976.2 L1519.5,976.2 L1521.5,976.2 L1523.5,976.2 L1525.5,976.2 L1527.5,976.2 L1529.5,976.2 L1531.5,976.2 L1533.5,976.2 L1535.5,976.2 L1537.5,976.2 L1539.5,976.2 L1541.5,976.2 L1543.5,976.2 L1545.5,976.2 L1547.5,976.2 L1549.5,976.2 L1551.5,976.2 L1553.5,976.2 L1555.5,976.2 L1557.5,976.2 L1559.5,976.2 L1561.5,976.2 L1563.5,976.2 L1565.5,976.2 L1567.5,976.2 L1569.5,976.2 L1571.5,976.2 L1573.5,976.2 L1575.5,976.2 L1577.5,976.2 L1579.5,976.2 L1581.5,976.2 L1583.5,976.2 L1585.5,976.2 L1587.5,976.2 L1589.5,976.2 L1591.5,976.2 L1593.5,976.2 L1595.5,976.2 L1597.5,976.2 L1599.5,976.2 L1601.5,976.2 L1603.5,976.2 L1605.5,976.2 L1607.5,976.2 L1609.5,976.2 L1611.5,976.2 L1613.5,976.2 L1615.5,976.2 L1617.5,976.2 L1619.5,976.2 L1621.5,976.2 L1623.5,976.2 L1625.5,976.2 L1627.5,976.2 L1629.5,976.2 L1631.5,976.2 L1633.5,976.2 L1635.5,976.2 L1637.5,976.2 L1639.5,976.2 L1641.5,976.2 L1643.5,976.2 L1645.5,976.2 L1647.5,976.2 L1649.5,976.2 L1651.5,976.2 L1653.5,976.2 L1655.5,976.2 L1657.5,976.2 L1659.5,976.2 L1661.5,976.2 L1663.5,976.2 L1665.5,976.2 L1667.5,976.2 L1669.5,976.2 L1671.5,976.2 L1673.5,976.2 L1675.5,976.2 L1677.5,976.2 L1679.5,976.2 L1681.5,976.2 L1683.5,976.2 L1685.5,976.2 L1687.5,976.2 L1689.5,976.2 L1691.5,976.2 L1693.5,976.2 L1695.5,976.2 L1697.5,976.2 L1699.5,976.2 L1701.5,976.2 L1703.5,976.3 L1705.5,976.3 L1707.5,976.3 L1709.5,976.3 L1711.5,976.3 L1713.5,976.3 L1715.5,976.3 L1717.5,976.3 L1719.5,976.3 L1721.5,976.3 L1723.5,976.3 L1725.5,976.3 L1727.5,976.3 L1729.5,976.3 L1731.5,976.3" stroke="#008000"/>
<g fill="#008000" stroke="none"><circle cx="463.5" cy="77.8" r="9.6"/><circle cx="507.3" cy="390.6" r="9.6"/><circle cx="551.2" cy="591.0" r="9.6"/><circle cx="595.0" cy="720.2" r="9.6"/><circle cx="638.8" cy="804.5" r="9.6"/><circle cx="682.6" cy="860.1" r="9.6"/><circle cx="726.5" cy="897.3" r="9.6"/><circle cx="770.3" cy="922.3" r="9.6"/><circle cx="814.1" cy="939.2" r="9.6"/><circle cx="858.0" cy="950.8" r="9.6"/><circle cx="901.8" cy="958.7" r="9.6"/><circle cx="945.6" cy="964.2" r="9.6"/><circle cx="989.5" cy="967.9" r="9.6"/><circle cx="1033.3" cy="970.5" r="9.6"/><circle cx="1077.1" cy="972.3" r="9.6"/><circle cx="1120.9" cy="973.5" r="9.6"/><circle cx="1164.8" cy="974.4" r="9.6"/><circle cx="1208.6" cy="975.0" r="9.6"/><circle cx="1252.4" cy="975.4" r="9.6"/><circle cx="1296.3" cy="975.6" r="9.6"/><circle cx="1340.1" cy="975.8" r="9.6"/><circle cx="1383.9" cy="976.0" r="9.6"/><circle cx="1427.8" cy="976.1" r="9.6"/><circle cx="1471.6" cy="976.1" r="9.6"/><circle cx="1515.4" cy="976.2" r="9.6"/><circle cx="1559.2" cy="976.2" r="9.6"/><circle cx="1603.1" cy="976.2" r="9.6"/><circle cx="1646.9" cy="976.2" r="9.6"/><circle cx="1690.7" cy="976.2" r="9.6"/></g>
</g>
<rect x="445.5" y="37.5" width="1285.0" height="1067.0" fill="none" stroke="#000" stroke-width="5"/>
<g fill="none" stroke-width="5">
<path d="M1403,105.2 H1631" stroke="#0000ff"/>
<path d="M1403,188.2 H1631" stroke="#ff0000" stroke-dasharray="9 11.9"/>
<path d="M1403,272.4 H1631" stroke="#008000" stroke-dasharray="5 5.45"/>
<path d="M1403,355.3 H1631" stroke="#008000"/>
<circle cx="1516.5" cy="355.3" r="9.6" fill="#008000" stroke="none"/>
</g>
<text><tspan x="204.8" y="94.4" font-size="82" textLength="189.7" lengthAdjust="spacingAndGlyphs">0.475</tspan></text>
<text><tspan x="246.8" y="284.9" font-size="82" textLength="147.7" lengthAdjust="spacingAndGlyphs">0.45</tspan></text>
<text><tspan x="204.8" y="475.5" font-size="82" textLength="189.7" lengthAdjust="spacingAndGlyphs">0.425</tspan></text>
<text><tspan x="287.5" y="666.0" font-size="82" textLength="106.2" lengthAdjust="spacingAndGlyphs">0.4</tspan></text>
<text><tspan x="204.8" y="856.6" font-size="82" textLength="189.7" lengthAdjust="spacingAndGlyphs">0.375</tspan></text>
<text><tspan x="246.8" y="1047.1" font-size="82" textLength="147.7" lengthAdjust="spacingAndGlyphs">0.35</tspan></text>
<text><tspan x="572.8" y="1206.4" font-size="82" textLength="83.7" lengthAdjust="spacingAndGlyphs">10</tspan><tspan x="657.9" y="1177.6" font-size="59.5" textLength="32.1" lengthAdjust="spacingAndGlyphs">0</tspan></text>
<text><tspan x="1118.9" y="1206.4" font-size="82" textLength="83.2" lengthAdjust="spacingAndGlyphs">10</tspan><tspan x="1204.7" y="1177.3" font-size="59.5" textLength="30.5" lengthAdjust="spacingAndGlyphs">1</tspan></text>
<text><tspan x="1665.8" y="1206.4" font-size="82" textLength="83.2" lengthAdjust="spacingAndGlyphs">10</tspan><tspan x="1750.8" y="1177.3" font-size="59.5" textLength="33.0" lengthAdjust="spacingAndGlyphs">2</tspan></text>
<text><tspan x="569.1" y="125.4" font-size="86" textLength="223.7" lengthAdjust="spacingAndGlyphs">RKM,</tspan> <tspan x="821.9" y="125.4" font-size="80.5" textLength="329.4" lengthAdjust="spacingAndGlyphs">tolerance</tspan> <tspan x="1175.7" y="125.4" font-size="82" textLength="84.3" lengthAdjust="spacingAndGlyphs">10</tspan><tspan x="1262.1" y="98.5" font-size="58" textLength="47.3" lengthAdjust="spacingAndGlyphs">−</tspan><tspan x="1312.7" y="94.6" font-size="59.5" textLength="31.6" lengthAdjust="spacingAndGlyphs">8</tspan></text>
<text><tspan x="644.9" y="208.4" font-size="86" textLength="148.3" lengthAdjust="spacingAndGlyphs">KR,</tspan> <tspan x="821.9" y="208.4" font-size="80.5" textLength="329.4" lengthAdjust="spacingAndGlyphs">tolerance</tspan> <tspan x="1175.7" y="208.4" font-size="82" textLength="84.3" lengthAdjust="spacingAndGlyphs">10</tspan><tspan x="1262.1" y="182.6" font-size="58" textLength="47.3" lengthAdjust="spacingAndGlyphs">−</tspan><tspan x="1310.4" y="178.3" font-size="59.5" textLength="36.6" lengthAdjust="spacingAndGlyphs">7</tspan></text>
<text><tspan x="951.8" y="292.0" font-size="80.5" textLength="190.3" lengthAdjust="spacingAndGlyphs">exact</tspan> <tspan x="1169.2" y="297.7" font-size="87" textLength="71.6" lengthAdjust="spacingAndGlyphs" style="font-family:'DejaVu Sans Light','DejaVu Sans',sans-serif;font-weight:200">+</tspan><tspan x="1239.7" y="292.0" font-size="82" textLength="36.1" lengthAdjust="spacingAndGlyphs">1</tspan><tspan x="1282.5" y="294.7" font-size="96" textLength="64.3" lengthAdjust="spacingAndGlyphs">%</tspan></text>
<text><tspan x="1155.2" y="376.3" font-size="80.5" textLength="189.8" lengthAdjust="spacingAndGlyphs">exact</tspan></text>
<text><tspan x="735.9" y="1333.4" font-size="80.5" textLength="222.9" lengthAdjust="spacingAndGlyphs">radius</tspan> <tspan x="990.4" y="1334.5" font-size="91" textLength="23.8" lengthAdjust="spacingAndGlyphs">(</tspan><tspan x="1019.1" y="1333.4" font-size="80.5" textLength="178.6" lengthAdjust="spacingAndGlyphs">units</tspan> <tspan x="1223.6" y="1333.4" font-size="80.5" textLength="73.3" lengthAdjust="spacingAndGlyphs">of</tspan> <tspan x="1320.3" y="1333.4" font-size="78" textLength="44.8" lengthAdjust="spacingAndGlyphs" font-style="italic">a</tspan><tspan x="1364.0" y="1344.8" font-size="59.5" textLength="33.3" lengthAdjust="spacingAndGlyphs">0</tspan><tspan x="1402.4" y="1334.5" font-size="91" textLength="27.1" lengthAdjust="spacingAndGlyphs">)</tspan></text>
<text transform="translate(85.4,750) rotate(-90)" x="-3.0" y="0" font-size="80.5" textLength="365.2" lengthAdjust="spacingAndGlyphs">amplitude</text>
</svg>
</body>
</html>
